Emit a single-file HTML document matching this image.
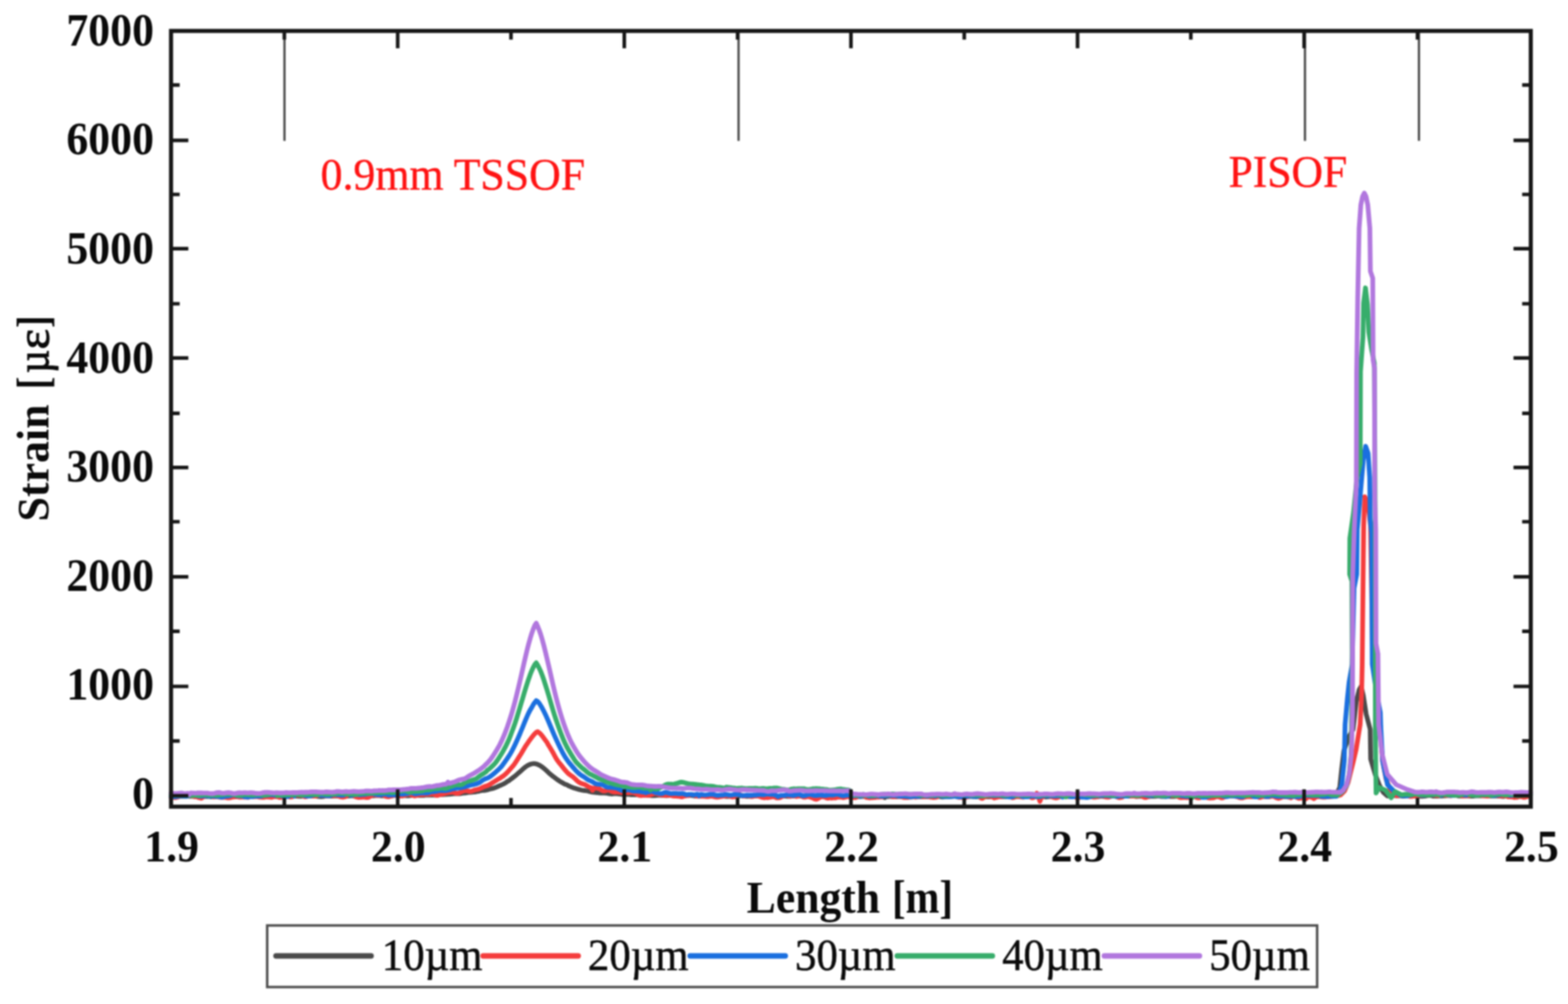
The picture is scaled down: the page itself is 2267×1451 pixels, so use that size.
<!DOCTYPE html>
<html lang="en"><head><meta charset="utf-8"><title>Strain vs Length</title>
<style>
html,body{margin:0;padding:0;background:#fff;}
body{width:2267px;height:1451px;overflow:hidden;}
svg{display:block;filter:blur(1.3px);}
text{font-family:"Liberation Serif","DejaVu Serif",serif;}
.b{font-weight:bold;font-size:64px;fill:#0a0a0a;}
.lg{font-size:64px;fill:#0a0a0a;stroke:#0a0a0a;stroke-width:0.7px;}
.an{font-size:64px;fill:#ff1212;stroke:#ff1212;stroke-width:0.5px;}
.gk{font-weight:normal;stroke:#0a0a0a;stroke-width:1.3px;}
.cv{fill:none;stroke-width:6.8;stroke-linejoin:round;stroke-linecap:round;}
</style></head><body>
<svg width="2267" height="1451" viewBox="0 0 2267 1451">
<rect width="2267" height="1451" fill="#ffffff"/>
<g stroke="#4c4c4c" stroke-width="3.3" fill="none">
<line x1="411.3" y1="44.7" x2="411.3" y2="203.6"/>
<line x1="1067.8" y1="44.7" x2="1067.8" y2="203.6"/>
<line x1="1886.7" y1="44.7" x2="1886.7" y2="203.6"/>
<line x1="2051.5" y1="44.7" x2="2051.5" y2="203.6"/>
</g>
<g class="cv">
<path stroke="#4a4a4a" d="M247.3,1150.8 249.5,1150.9 251.7,1150.6 253.9,1151.2 256.1,1151.3 258.3,1151.1 260.5,1150.8 262.7,1150.7 264.9,1150.8 267.1,1150.8 269.3,1150.7 271.5,1150.7 273.7,1150.8 275.9,1150.9 278.1,1150.9 280.3,1151.0 282.5,1151.2 284.7,1151.5 286.9,1151.8 289.1,1151.8 291.3,1151.8 293.5,1151.4 295.7,1151.2 297.9,1150.9 300.1,1151.0 302.3,1151.2 304.5,1151.5 306.7,1151.3 308.9,1151.2 311.1,1151.1 313.3,1151.3 315.5,1150.8 317.7,1151.3 319.9,1151.1 322.1,1150.8 324.3,1150.8 326.5,1150.7 328.7,1150.7 330.9,1150.8 333.1,1150.8 335.3,1150.9 337.5,1150.9 339.7,1150.9 341.9,1150.8 344.1,1150.7 346.3,1150.7 348.5,1150.7 350.7,1150.6 352.9,1151.9 355.1,1150.3 357.3,1150.4 359.5,1150.7 361.7,1150.7 363.9,1150.6 366.1,1150.5 368.3,1150.5 370.5,1150.4 372.7,1150.3 374.9,1150.3 377.1,1150.6 379.3,1150.7 381.5,1150.9 383.7,1151.0 385.9,1151.1 388.1,1151.0 390.3,1150.7 392.5,1150.4 394.7,1150.5 396.9,1150.8 399.1,1151.0 401.3,1151.1 403.5,1151.2 405.7,1150.9 407.9,1150.6 410.1,1150.3 412.3,1150.3 414.5,1150.6 416.7,1150.6 418.9,1149.9 421.1,1150.4 423.3,1150.5 425.5,1150.6 427.7,1150.6 429.9,1150.7 432.1,1150.8 434.3,1150.9 436.5,1150.8 438.7,1150.5 440.9,1150.2 443.1,1149.3 445.3,1150.3 447.5,1150.3 449.7,1150.3 451.9,1150.2 454.1,1150.4 456.3,1150.5 458.5,1150.8 460.7,1151.0 462.9,1151.3 465.1,1151.4 467.3,1151.2 469.5,1150.7 471.7,1150.3 473.9,1150.1 476.1,1150.4 478.3,1150.5 480.5,1150.5 482.7,1150.4 484.9,1150.3 487.1,1150.3 489.3,1150.3 491.5,1150.3 493.7,1150.5 495.9,1150.6 498.1,1150.6 500.3,1150.7 502.5,1150.5 504.7,1150.4 506.9,1150.2 509.1,1150.2 511.3,1150.3 513.5,1150.6 515.7,1150.8 517.9,1151.0 520.1,1151.0 522.3,1150.8 524.5,1150.8 526.7,1150.6 528.9,1150.6 531.1,1150.3 533.3,1150.3 535.5,1150.1 537.7,1150.2 539.9,1150.1 542.1,1149.8 544.3,1149.7 546.5,1149.8 548.7,1149.6 550.9,1150.2 553.1,1150.2 555.3,1150.0 557.5,1150.1 559.7,1150.1 561.9,1150.4 564.1,1150.3 566.3,1150.2 568.5,1149.8 570.7,1149.6 572.9,1149.5 575.1,1149.8 577.3,1149.9 579.5,1150.0 581.7,1150.0 583.9,1149.9 586.1,1149.9 588.3,1150.0 590.5,1150.0 592.7,1149.8 594.9,1149.5 597.1,1149.5 599.3,1149.5 601.5,1149.4 603.7,1149.3 605.9,1149.5 608.1,1149.7 610.3,1149.7 612.5,1149.6 614.7,1149.2 616.9,1149.1 619.1,1149.0 621.3,1149.0 623.5,1148.9 625.7,1149.0 627.9,1149.0 630.1,1149.0 632.3,1148.8 634.5,1148.5 636.7,1148.3 638.9,1148.2 641.1,1148.3 643.3,1148.2 645.5,1148.1 647.7,1147.9 649.9,1147.8 652.1,1147.6 654.3,1147.4 656.5,1147.0 658.7,1146.9 660.9,1147.0 663.1,1147.1 665.3,1147.0 667.5,1146.6 669.7,1146.2 671.9,1146.0 674.1,1145.8 676.3,1145.5 678.5,1145.2 680.7,1145.0 682.9,1144.9 685.1,1144.6 687.3,1144.5 689.5,1144.0 691.7,1143.6 693.9,1143.0 696.1,1142.6 698.3,1142.4 700.5,1142.3 702.7,1142.0 704.9,1141.4 707.1,1140.8 709.3,1140.1 711.5,1139.6 713.7,1139.1 715.9,1138.3 718.1,1137.4 720.3,1136.4 722.5,1135.4 724.7,1134.5 726.9,1133.5 729.1,1132.4 731.3,1131.1 733.5,1129.3 735.7,1128.3 737.9,1126.6 740.1,1125.0 742.3,1123.3 744.5,1121.6 746.7,1119.7 748.9,1117.8 751.1,1115.9 753.3,1113.9 755.5,1111.9 757.7,1110.0 759.9,1108.3 762.1,1106.8 764.3,1105.6 766.5,1104.6 768.7,1104.0 770.9,1103.7 773.1,1103.7 775.3,1104.1 777.5,1104.8 779.7,1105.8 781.9,1107.1 784.1,1108.6 786.3,1110.4 788.5,1112.3 790.7,1114.3 792.9,1116.4 795.1,1118.4 797.3,1120.3 799.5,1122.0 801.7,1123.6 803.9,1125.3 806.1,1126.9 808.3,1128.4 810.5,1129.8 812.7,1131.0 814.9,1132.3 817.1,1133.5 819.3,1134.0 821.5,1135.4 823.7,1136.4 825.9,1137.3 828.1,1138.2 830.3,1138.9 832.5,1139.6 834.7,1140.2 836.9,1140.9 839.1,1141.5 841.3,1142.0 843.5,1142.3 845.7,1142.5 847.9,1142.8 850.1,1143.3 852.3,1143.9 854.5,1144.4 856.7,1144.9 858.9,1145.1 861.1,1145.3 863.3,1145.5 865.5,1145.9 867.7,1146.0 869.9,1146.1 872.1,1146.1 874.3,1146.2 876.5,1146.4 878.7,1146.6 880.9,1147.1 883.1,1147.4 885.3,1147.5 887.5,1147.2 889.7,1147.1 891.9,1147.1 894.1,1147.4 896.3,1147.7 898.5,1148.0 900.7,1148.2 902.9,1148.2 905.1,1148.1 907.3,1148.0 909.5,1148.2 911.7,1148.5 913.9,1148.7 916.1,1148.7 918.3,1148.5 920.5,1148.5 922.7,1148.8 924.9,1149.2 927.1,1149.3 929.3,1149.2 931.5,1149.1 933.7,1149.2 935.9,1149.3 938.1,1149.5 940.3,1149.6 942.5,1149.9 944.7,1149.8 946.9,1149.8 949.1,1149.5 951.3,1149.4 953.5,1149.2 955.7,1149.3 957.9,1149.5 960.1,1149.7 962.3,1149.9 964.5,1149.9 966.7,1149.7 968.9,1149.5 971.1,1149.4 973.3,1149.6 975.5,1149.9 977.7,1149.1 979.9,1150.3 982.1,1150.4 984.3,1150.3 986.5,1150.0 988.7,1149.8 990.9,1149.5 993.1,1149.5 995.3,1149.4 997.5,1149.5 999.7,1149.6 1001.9,1150.0 1004.1,1150.4 1006.3,1150.5 1008.5,1150.1 1010.7,1149.8 1012.9,1149.9 1015.1,1150.3 1017.3,1150.6 1019.5,1150.6 1021.7,1150.3 1023.9,1150.2 1026.1,1150.2 1028.3,1150.2 1030.5,1150.3 1032.7,1150.3 1034.9,1150.3 1037.1,1150.1 1039.3,1151.0 1041.5,1149.7 1043.7,1150.0 1045.9,1150.4 1048.1,1150.8 1050.3,1151.0 1052.5,1151.1 1054.7,1150.9 1056.9,1150.5 1059.1,1150.4 1061.3,1150.6 1063.5,1151.0 1065.7,1150.9 1067.9,1150.5 1070.1,1150.1 1072.3,1149.9 1074.5,1150.2 1076.7,1150.7 1078.9,1150.9 1081.1,1150.9 1083.3,1150.8 1085.5,1150.9 1087.7,1150.8 1089.9,1150.6 1092.1,1150.2 1094.3,1150.0 1096.5,1150.0 1098.7,1150.3 1100.9,1150.5 1103.1,1150.6 1105.3,1150.4 1107.5,1151.1 1109.7,1151.2 1111.9,1151.1 1114.1,1150.8 1116.3,1150.5 1118.5,1150.5 1120.7,1150.7 1122.9,1151.0 1125.1,1151.0 1127.3,1150.8 1129.5,1150.5 1131.7,1150.5 1133.9,1150.5 1136.1,1150.7 1138.3,1150.9 1140.5,1150.9 1142.7,1150.8 1144.9,1150.7 1147.1,1150.7 1149.3,1150.4 1151.5,1150.3 1153.7,1150.2 1155.9,1150.6 1158.1,1150.7 1160.3,1150.6 1162.5,1150.2 1164.7,1150.2 1166.9,1150.2 1169.1,1150.7 1171.3,1150.9 1173.5,1151.1 1175.7,1151.0 1177.9,1150.8 1180.1,1150.7 1182.3,1150.6 1184.5,1150.8 1186.7,1151.0 1188.9,1151.1 1191.1,1151.1 1193.3,1151.0 1195.5,1151.1 1197.7,1151.2 1199.9,1151.3 1202.1,1151.3 1204.3,1151.2 1206.5,1151.0 1208.7,1150.9 1210.9,1151.0 1213.1,1151.1 1215.3,1151.1 1217.5,1151.0 1219.7,1150.7 1221.9,1150.6 1224.1,1150.5 1226.3,1150.7 1228.5,1150.8 1230.7,1151.1 1232.9,1151.2 1235.1,1151.0 1237.3,1151.0 1239.5,1151.0 1241.7,1151.2 1243.9,1151.3 1246.1,1151.2 1248.3,1151.1 1250.5,1151.0 1252.7,1151.3 1254.9,1151.4 1257.1,1151.6 1259.3,1151.5 1261.5,1151.7 1263.7,1151.6 1265.9,1151.4 1268.1,1151.3 1270.3,1151.5 1272.5,1151.7 1274.7,1151.7 1276.9,1151.6 1279.1,1152.7 1281.3,1151.4 1283.5,1151.3 1285.7,1151.2 1287.9,1151.2 1290.1,1151.3 1292.3,1151.7 1294.5,1151.7 1296.7,1151.5 1298.9,1151.1 1301.1,1151.0 1303.3,1150.9 1305.5,1151.0 1307.7,1150.9 1309.9,1150.8 1312.1,1150.9 1314.3,1151.4 1316.5,1151.8 1318.7,1151.8 1320.9,1151.5 1323.1,1151.1 1325.3,1151.1 1327.5,1151.4 1329.7,1151.5 1331.9,1151.5 1334.1,1151.3 1336.3,1151.6 1338.5,1151.4 1340.7,1151.4 1342.9,1151.2 1345.1,1151.4 1347.3,1151.6 1349.5,1151.6 1351.7,1151.3 1353.9,1150.9 1356.1,1150.9 1358.3,1151.2 1360.5,1151.6 1362.7,1151.8 1364.9,1151.6 1367.1,1151.3 1369.3,1151.2 1371.5,1151.3 1373.7,1151.4 1375.9,1151.2 1378.1,1150.8 1380.3,1150.4 1382.5,1150.5 1384.7,1150.8 1386.9,1151.2 1389.1,1151.4 1391.3,1151.4 1393.5,1151.4 1395.7,1151.4 1397.9,1151.3 1400.1,1151.1 1402.3,1151.0 1404.5,1151.0 1406.7,1151.3 1408.9,1151.4 1411.1,1151.5 1413.3,1151.4 1415.5,1151.3 1417.7,1151.2 1419.9,1151.3 1422.1,1151.5 1424.3,1151.5 1426.5,1151.6 1428.7,1151.6 1430.9,1151.7 1433.1,1151.6 1435.3,1151.4 1437.5,1151.2 1439.7,1151.1 1441.9,1151.3 1444.1,1151.4 1446.3,1151.5 1448.5,1151.4 1450.7,1151.4 1452.9,1151.3 1455.1,1151.3 1457.3,1151.2 1459.5,1151.1 1461.7,1151.0 1463.9,1151.2 1466.1,1151.2 1468.3,1151.3 1470.5,1151.1 1472.7,1150.9 1474.9,1150.9 1477.1,1151.0 1479.3,1151.1 1481.5,1151.0 1483.7,1150.9 1485.9,1150.9 1488.1,1151.0 1490.3,1151.1 1492.5,1150.8 1494.7,1150.6 1496.9,1150.6 1499.1,1150.9 1501.3,1151.1 1503.5,1151.3 1505.7,1151.4 1507.9,1151.7 1510.1,1151.7 1512.3,1151.8 1514.5,1151.6 1516.7,1151.3 1518.9,1150.9 1521.1,1150.7 1523.3,1150.5 1525.5,1150.3 1527.7,1150.3 1529.9,1150.8 1532.1,1151.2 1534.3,1151.4 1536.5,1151.3 1538.7,1151.0 1540.9,1150.8 1543.1,1150.8 1545.3,1150.8 1547.5,1151.0 1549.7,1150.9 1551.9,1150.7 1554.1,1150.5 1556.3,1149.8 1558.5,1150.7 1560.7,1150.9 1562.9,1151.2 1565.1,1151.4 1567.3,1151.4 1569.5,1151.2 1571.7,1151.1 1573.9,1151.2 1576.1,1151.5 1578.3,1151.5 1580.5,1151.7 1582.7,1151.7 1584.9,1151.7 1587.1,1151.3 1589.3,1151.0 1591.5,1150.8 1593.7,1150.9 1595.9,1151.1 1598.1,1151.3 1600.3,1151.5 1602.5,1151.2 1604.7,1150.8 1606.9,1150.3 1609.1,1150.1 1611.3,1150.2 1613.5,1150.4 1615.7,1150.6 1617.9,1150.8 1620.1,1150.9 1622.3,1150.7 1624.5,1150.5 1626.7,1150.3 1628.9,1150.6 1631.1,1150.7 1633.3,1150.7 1635.5,1150.5 1637.7,1150.5 1639.9,1150.6 1642.1,1151.0 1644.3,1151.0 1646.5,1150.9 1648.7,1150.7 1650.9,1150.9 1653.1,1151.2 1655.3,1151.3 1657.5,1151.4 1659.7,1151.3 1661.9,1151.2 1664.1,1150.9 1666.3,1150.9 1668.5,1150.6 1670.7,1150.8 1672.9,1150.6 1675.1,1150.7 1677.3,1150.8 1679.5,1151.1 1681.7,1151.2 1683.9,1151.1 1686.1,1151.0 1688.3,1150.9 1690.5,1150.9 1692.7,1151.1 1694.9,1151.0 1697.1,1151.0 1699.3,1150.9 1701.5,1150.9 1703.7,1150.7 1705.9,1150.2 1708.1,1149.8 1710.3,1149.9 1712.5,1150.2 1714.7,1150.4 1716.9,1150.6 1719.1,1150.8 1721.3,1151.0 1723.5,1151.0 1725.7,1151.1 1727.9,1151.4 1730.1,1151.6 1732.3,1151.5 1734.5,1151.2 1736.7,1151.1 1738.9,1150.9 1741.1,1150.8 1743.3,1150.7 1745.5,1150.8 1747.7,1150.9 1749.9,1151.2 1752.1,1151.2 1754.3,1151.1 1756.5,1150.9 1758.7,1150.9 1760.9,1151.0 1763.1,1151.1 1765.3,1151.1 1767.5,1151.1 1769.7,1151.4 1771.9,1151.2 1774.1,1150.8 1776.3,1150.2 1778.5,1150.2 1780.7,1150.2 1782.9,1150.3 1785.1,1150.3 1787.3,1150.5 1789.5,1150.6 1791.7,1150.5 1793.9,1150.5 1796.1,1150.4 1798.3,1150.4 1800.5,1150.1 1802.7,1150.0 1804.9,1150.3 1807.1,1150.7 1809.3,1151.1 1811.5,1151.0 1813.7,1150.8 1815.9,1150.6 1818.1,1150.8 1820.3,1151.0 1822.5,1151.3 1824.7,1150.7 1826.9,1151.2 1829.1,1151.1 1831.3,1151.3 1833.5,1151.3 1835.7,1151.3 1837.9,1150.8 1840.1,1150.4 1842.3,1150.1 1844.5,1150.3 1846.7,1150.8 1848.9,1151.4 1851.1,1151.6 1853.3,1151.5 1855.5,1151.4 1857.7,1151.3 1859.9,1151.4 1862.1,1151.3 1864.3,1151.3 1866.5,1151.0 1868.7,1151.0 1870.9,1150.9 1873.1,1151.0 1875.3,1151.2 1877.5,1151.3 1879.7,1151.2 1881.9,1150.7 1884.1,1150.0 1886.3,1149.7 1888.5,1149.9 1890.7,1150.2 1892.9,1150.5 1895.1,1150.5 1897.3,1150.6 1899.5,1150.7 1901.7,1150.9 1903.9,1150.9 1906.1,1151.0 1908.3,1151.1 1910.5,1150.9 1912.7,1150.7 1914.9,1150.4 1917.1,1150.4 1919.3,1150.5 1921.5,1150.7 1923.7,1150.7 1925.9,1150.8 1928.0,1150.8 1934.0,1144.0 1937.0,1138.0 1939.7,1112.0 1943.0,1085.0 1950.0,1065.0 1956.3,1054.0 1960.7,1015.0 1965.0,997.0 1967.9,992.0 1971.0,1005.0 1975.2,1032.0 1981.0,1054.0 1981.7,1097.0 1988.2,1119.0 1994.0,1134.0 1999.8,1145.0 2006.0,1150.3 2008.0,1150.3 2010.2,1150.1 2012.4,1149.9 2014.6,1149.9 2016.8,1149.9 2019.0,1150.1 2021.2,1150.1 2023.4,1150.2 2025.6,1150.2 2027.8,1150.6 2030.0,1150.5 2032.2,1150.3 2034.4,1149.8 2036.6,1149.7 2038.8,1149.7 2041.0,1150.0 2043.2,1150.1 2045.4,1150.2 2047.6,1150.1 2049.8,1150.3 2052.0,1150.6 2054.2,1150.8 2056.4,1150.8 2058.6,1150.7 2060.8,1150.3 2063.0,1149.9 2065.2,1149.6 2067.4,1149.7 2069.6,1149.7 2071.8,1150.5 2074.0,1150.7 2076.2,1150.6 2078.4,1150.5 2080.6,1150.4 2082.8,1150.4 2085.0,1150.4 2087.2,1150.2 2089.4,1150.0 2091.6,1149.8 2093.8,1149.8 2096.0,1149.7 2098.2,1149.6 2100.4,1149.5 2102.6,1149.6 2104.8,1148.1 2107.0,1150.0 2109.2,1150.3 2111.4,1150.3 2113.6,1150.3 2115.8,1150.1 2118.0,1150.0 2120.2,1149.9 2122.4,1150.1 2124.6,1150.4 2126.8,1150.7 2129.0,1150.5 2131.2,1150.3 2133.4,1150.2 2135.6,1150.1 2137.8,1150.2 2140.0,1150.1 2142.2,1150.1 2144.4,1149.7 2146.6,1149.5 2148.8,1149.4 2151.0,1149.9 2153.2,1150.1 2155.4,1150.3 2157.6,1150.2 2159.8,1150.3 2162.0,1150.3 2164.2,1150.4 2166.4,1150.5 2168.6,1150.6 2170.8,1150.8 2173.0,1151.0 2175.2,1150.8 2177.4,1150.5 2179.6,1150.3 2181.8,1150.4 2184.0,1150.5 2186.2,1150.2 2188.4,1149.9 2190.6,1149.8 2192.8,1149.9 2195.0,1150.1 2197.2,1150.2 2199.4,1150.4 2201.6,1150.3 2203.8,1150.2 2206.0,1149.7 2208.2,1149.6 2210.4,1149.6 2212.6,1149.9"/>
<path stroke="#f53c3c" d="M247.3,1152.3 249.5,1152.4 251.7,1152.6 253.9,1152.8 256.1,1152.3 258.3,1151.3 260.5,1150.2 262.7,1149.8 264.9,1150.1 267.1,1150.3 269.3,1150.8 271.5,1150.7 273.7,1150.3 275.9,1149.8 278.1,1150.7 280.3,1150.7 282.5,1151.5 284.7,1151.7 286.9,1152.7 289.1,1153.2 291.3,1153.6 293.5,1152.0 295.7,1150.8 297.9,1149.6 300.1,1149.6 302.3,1149.6 304.5,1150.4 306.7,1151.1 308.9,1151.8 311.1,1151.5 313.3,1151.5 315.5,1151.6 317.7,1152.2 319.9,1152.3 322.1,1152.3 324.3,1152.2 326.5,1152.4 328.7,1153.1 330.9,1153.1 333.1,1152.9 335.3,1152.0 337.5,1151.9 339.7,1151.4 341.9,1151.5 344.1,1151.5 346.3,1152.2 348.5,1152.1 350.7,1151.8 352.9,1151.6 355.1,1152.0 357.3,1151.8 359.5,1152.2 361.7,1150.5 363.9,1150.7 366.1,1151.3 368.3,1151.2 370.5,1151.3 372.7,1151.4 374.9,1152.0 377.1,1152.2 379.3,1152.4 381.5,1152.3 383.7,1152.0 385.9,1151.7 388.1,1151.9 390.3,1152.1 392.5,1152.4 394.7,1151.8 396.9,1151.1 399.1,1150.8 401.3,1151.3 403.5,1152.4 405.7,1152.6 407.9,1151.5 410.1,1150.1 412.3,1149.4 414.5,1149.9 416.7,1151.0 418.9,1151.8 421.1,1151.9 423.3,1151.3 425.5,1149.9 427.7,1149.6 429.9,1149.2 432.1,1149.4 434.3,1149.0 436.5,1149.6 438.7,1150.6 440.9,1151.6 443.1,1151.4 445.3,1150.2 447.5,1149.4 449.7,1149.5 451.9,1150.4 454.1,1150.7 456.3,1150.6 458.5,1149.8 460.7,1149.6 462.9,1149.5 465.1,1149.7 467.3,1149.5 469.5,1149.9 471.7,1150.4 473.9,1150.6 476.1,1150.0 478.3,1149.6 480.5,1149.9 482.7,1150.0 484.9,1149.8 487.1,1149.8 489.3,1150.4 491.5,1151.5 493.7,1151.9 495.9,1152.1 498.1,1151.7 500.3,1151.0 502.5,1149.7 504.7,1148.3 506.9,1147.4 509.1,1148.1 511.3,1149.5 513.5,1151.3 515.7,1152.0 517.9,1152.5 520.1,1152.4 522.3,1152.3 524.5,1152.0 526.7,1152.1 528.9,1152.5 531.1,1152.6 533.3,1152.1 535.5,1150.7 537.7,1149.6 539.9,1148.9 542.1,1148.9 544.3,1149.7 546.5,1149.7 548.7,1149.5 550.9,1148.4 553.1,1148.7 555.3,1149.5 557.5,1150.9 559.7,1151.4 561.9,1151.6 564.1,1150.9 566.3,1150.2 568.5,1149.5 570.7,1149.6 572.9,1149.6 575.1,1150.0 577.3,1150.1 579.5,1150.3 581.7,1150.2 583.9,1149.6 586.1,1149.2 588.3,1148.0 590.5,1148.2 592.7,1147.8 594.9,1149.0 597.1,1149.5 599.3,1150.4 601.5,1150.0 603.7,1149.5 605.9,1148.7 608.1,1148.7 610.3,1148.4 612.5,1148.5 614.7,1147.9 616.9,1148.2 619.1,1147.9 621.3,1147.9 623.5,1147.2 625.7,1147.4 627.9,1148.1 630.1,1149.4 632.3,1149.6 634.5,1149.0 636.7,1148.1 638.9,1147.8 641.1,1147.4 643.3,1146.8 645.5,1146.1 647.7,1145.7 649.9,1145.4 652.1,1145.0 654.3,1144.9 656.5,1145.4 658.7,1146.3 660.9,1146.7 663.1,1146.4 665.3,1145.4 667.5,1144.3 669.7,1143.4 671.9,1142.8 674.1,1142.7 676.3,1143.1 678.5,1143.6 680.7,1143.8 682.9,1143.1 685.1,1142.3 687.3,1141.5 689.5,1141.1 691.7,1140.6 693.9,1139.8 696.1,1138.7 698.3,1137.6 700.5,1136.8 702.7,1136.0 704.9,1135.4 707.1,1134.3 709.3,1133.0 711.5,1131.5 713.7,1130.2 715.9,1128.7 718.1,1127.5 720.3,1126.0 722.5,1124.9 724.7,1123.3 726.9,1122.0 729.1,1120.3 731.3,1118.4 733.5,1116.2 735.7,1113.8 737.9,1111.3 740.1,1108.8 742.3,1106.2 744.5,1103.2 746.7,1099.8 748.9,1096.4 751.1,1092.9 753.3,1089.5 755.5,1085.7 757.7,1082.0 759.9,1078.3 762.1,1075.1 764.3,1071.8 766.5,1068.8 768.7,1065.8 770.9,1063.0 773.1,1060.5 775.3,1058.4 777.5,1057.4 779.7,1059.1 781.9,1061.1 784.1,1063.7 786.3,1066.7 788.5,1069.8 790.7,1072.7 792.9,1076.8 795.1,1080.3 797.3,1083.9 799.5,1087.7 801.7,1091.8 803.9,1095.9 806.1,1099.3 808.3,1102.2 810.5,1104.8 812.7,1107.5 814.9,1110.3 817.1,1113.0 819.3,1115.5 821.5,1117.8 823.7,1119.5 825.9,1121.1 828.1,1122.4 830.3,1124.4 832.5,1126.5 834.7,1128.7 836.9,1130.3 839.1,1131.7 841.3,1132.6 843.5,1133.3 845.7,1133.9 847.9,1135.2 850.1,1136.5 852.3,1137.7 854.5,1138.3 856.7,1142.3 858.9,1138.6 861.1,1138.7 863.3,1139.3 865.5,1139.6 867.7,1140.8 869.9,1142.0 872.1,1143.2 874.3,1143.1 876.5,1142.5 878.7,1141.8 880.9,1142.3 883.1,1143.1 885.3,1144.2 887.5,1144.6 889.7,1144.8 891.9,1144.5 894.1,1144.8 896.3,1145.2 898.5,1145.5 900.7,1145.7 902.9,1145.6 905.1,1145.7 907.3,1145.4 909.5,1145.5 911.7,1145.3 913.9,1145.4 916.1,1145.6 918.3,1146.5 920.5,1147.5 922.7,1148.9 924.9,1149.3 927.1,1149.9 929.3,1149.0 931.5,1149.3 933.7,1148.9 935.9,1149.5 938.1,1149.4 940.3,1149.0 942.5,1148.0 944.7,1147.2 946.9,1146.7 949.1,1147.2 951.3,1147.8 953.5,1148.5 955.7,1148.7 957.9,1149.1 960.1,1149.4 962.3,1149.5 964.5,1149.4 966.7,1149.3 968.9,1149.5 971.1,1149.9 973.3,1150.4 975.5,1150.6 977.7,1150.7 979.9,1150.8 982.1,1150.9 984.3,1151.5 986.5,1151.5 988.7,1150.6 990.9,1150.4 993.1,1149.7 995.3,1150.0 997.5,1148.7 999.7,1148.5 1001.9,1148.4 1004.1,1149.6 1006.3,1150.1 1008.5,1150.8 1010.7,1150.7 1012.9,1150.9 1015.1,1150.8 1017.3,1150.8 1019.5,1151.0 1021.7,1151.4 1023.9,1151.3 1026.1,1150.9 1028.3,1150.6 1030.5,1150.9 1032.7,1151.6 1034.9,1152.0 1037.1,1152.0 1039.3,1151.8 1041.5,1151.4 1043.7,1151.1 1045.9,1150.5 1048.1,1150.6 1050.3,1150.0 1052.5,1150.3 1054.7,1150.4 1056.9,1151.5 1059.1,1151.8 1061.3,1151.7 1063.5,1150.2 1065.7,1148.9 1067.9,1148.1 1070.1,1148.7 1072.3,1149.7 1074.5,1150.6 1076.7,1150.5 1078.9,1150.0 1081.1,1149.7 1083.3,1150.3 1085.5,1151.0 1087.7,1151.1 1089.9,1150.6 1092.1,1150.3 1094.3,1150.4 1096.5,1150.6 1098.7,1151.3 1100.9,1152.1 1103.1,1152.6 1105.3,1153.0 1107.5,1152.5 1109.7,1152.8 1111.9,1152.4 1114.1,1152.2 1116.3,1151.4 1118.5,1151.7 1120.7,1152.1 1122.9,1153.1 1125.1,1153.0 1127.3,1152.8 1129.5,1151.8 1131.7,1150.9 1133.9,1150.0 1136.1,1149.4 1138.3,1149.7 1140.5,1150.2 1142.7,1150.8 1144.9,1150.7 1147.1,1148.1 1149.3,1150.7 1151.5,1151.1 1153.7,1150.6 1155.9,1150.4 1158.1,1150.4 1160.3,1151.5 1162.5,1152.2 1164.7,1152.0 1166.9,1151.4 1169.1,1151.4 1171.3,1152.0 1173.5,1152.7 1175.7,1153.6 1177.9,1154.7 1180.1,1155.2 1182.3,1154.4 1184.5,1152.9 1186.7,1152.0 1188.9,1151.5 1191.1,1151.9 1193.3,1152.3 1195.5,1153.3 1197.7,1153.6 1199.9,1152.8 1202.1,1153.5 1204.3,1153.1 1206.5,1152.9 1208.7,1153.0 1210.9,1152.0 1213.1,1152.2 1215.3,1151.8 1217.5,1152.5 1219.7,1152.8 1221.9,1152.3 1224.1,1151.7 1226.3,1148.0 1228.5,1152.0 1230.7,1152.0 1232.9,1152.6 1235.1,1152.9 1237.3,1152.6 1239.5,1151.7 1241.7,1150.9 1243.9,1150.5 1246.1,1150.6 1248.3,1150.4 1250.5,1150.9 1252.7,1152.7 1254.9,1152.7 1257.1,1153.2 1259.3,1152.9 1261.5,1152.8 1263.7,1152.5 1265.9,1152.5 1268.1,1151.9 1270.3,1152.1 1272.5,1151.9 1274.7,1151.9 1276.9,1150.7 1279.1,1150.0 1281.3,1150.0 1283.5,1150.2 1285.7,1150.4 1287.9,1150.4 1290.1,1151.4 1292.3,1151.6 1294.5,1151.7 1296.7,1151.0 1298.9,1151.0 1301.1,1151.1 1303.3,1151.7 1305.5,1152.1 1307.7,1152.6 1309.9,1152.5 1312.1,1152.6 1314.3,1152.1 1316.5,1151.8 1318.7,1151.5 1320.9,1151.6 1323.1,1152.0 1325.3,1151.8 1327.5,1151.7 1329.7,1151.3 1331.9,1151.4 1334.1,1151.4 1336.3,1151.6 1338.5,1151.4 1340.7,1151.4 1342.9,1151.3 1345.1,1152.1 1347.3,1152.2 1349.5,1152.7 1351.7,1152.3 1353.9,1152.1 1356.1,1150.6 1358.3,1150.0 1360.5,1149.4 1362.7,1150.1 1364.9,1150.4 1367.1,1150.5 1369.3,1150.2 1371.5,1150.0 1373.7,1150.4 1375.9,1150.6 1378.1,1150.4 1380.3,1150.3 1382.5,1150.9 1384.7,1151.9 1386.9,1152.4 1389.1,1152.4 1391.3,1152.5 1393.5,1152.7 1395.7,1152.7 1397.9,1151.9 1400.1,1151.2 1402.3,1150.2 1404.5,1150.0 1406.7,1149.0 1408.9,1148.8 1411.1,1148.1 1413.3,1149.2 1415.5,1150.9 1417.7,1153.0 1419.9,1153.9 1422.1,1152.7 1424.3,1151.7 1426.5,1150.3 1428.7,1150.8 1430.9,1150.3 1433.1,1151.5 1435.3,1152.0 1437.5,1153.3 1439.7,1152.6 1441.9,1152.1 1444.1,1151.5 1446.3,1151.6 1448.5,1151.6 1450.7,1151.0 1452.9,1150.4 1455.1,1149.8 1457.3,1149.8 1459.5,1150.5 1461.7,1151.9 1463.9,1152.8 1466.1,1152.5 1468.3,1151.3 1470.5,1150.8 1472.7,1151.1 1474.9,1151.7 1477.1,1151.9 1479.3,1152.1 1481.5,1151.7 1483.7,1151.2 1485.9,1150.5 1488.1,1151.2 1490.3,1152.3 1492.5,1153.1 1494.7,1152.4 1496.9,1151.5 1499.1,1146.3 1501.3,1151.3 1503.5,1158.2 1505.7,1152.1 1507.9,1151.9 1510.1,1150.5 1512.3,1149.9 1514.5,1149.7 1516.7,1150.7 1518.9,1151.1 1521.1,1151.7 1523.3,1152.4 1525.5,1153.0 1527.7,1153.0 1529.9,1152.2 1532.1,1151.4 1534.3,1149.7 1536.5,1150.3 1538.7,1150.2 1540.9,1150.7 1543.1,1151.2 1545.3,1151.2 1547.5,1150.9 1549.7,1150.6 1551.9,1150.8 1554.1,1151.5 1556.3,1152.6 1558.5,1153.1 1560.7,1152.7 1562.9,1151.3 1565.1,1150.3 1567.3,1149.8 1569.5,1149.9 1571.7,1149.6 1573.9,1149.8 1576.1,1150.3 1578.3,1151.3 1580.5,1152.0 1582.7,1152.2 1584.9,1151.9 1587.1,1151.3 1589.3,1150.6 1591.5,1150.4 1593.7,1150.3 1595.9,1148.1 1598.1,1151.7 1600.3,1152.2 1602.5,1152.1 1604.7,1151.5 1606.9,1150.6 1609.1,1149.8 1611.3,1150.1 1613.5,1151.0 1615.7,1152.1 1617.9,1152.9 1620.1,1152.6 1622.3,1152.2 1624.5,1150.9 1626.7,1150.4 1628.9,1149.5 1631.1,1149.7 1633.3,1150.0 1635.5,1150.6 1637.7,1150.6 1639.9,1150.7 1642.1,1150.8 1644.3,1150.6 1646.5,1150.1 1648.7,1149.7 1650.9,1150.5 1653.1,1151.9 1655.3,1152.7 1657.5,1152.5 1659.7,1151.5 1661.9,1150.7 1664.1,1149.5 1666.3,1149.0 1668.5,1148.9 1670.7,1149.9 1672.9,1150.2 1675.1,1150.5 1677.3,1150.5 1679.5,1150.5 1681.7,1150.3 1683.9,1149.9 1686.1,1149.8 1688.3,1149.8 1690.5,1149.8 1692.7,1149.9 1694.9,1149.9 1697.1,1149.9 1699.3,1149.8 1701.5,1150.5 1703.7,1151.5 1705.9,1152.6 1708.1,1152.8 1710.3,1152.7 1712.5,1152.5 1714.7,1152.6 1716.9,1152.8 1719.1,1152.2 1721.3,1150.9 1723.5,1151.3 1725.7,1151.6 1727.9,1151.7 1730.1,1152.6 1732.3,1153.1 1734.5,1153.0 1736.7,1151.7 1738.9,1150.5 1741.1,1150.4 1743.3,1151.4 1745.5,1152.6 1747.7,1153.1 1749.9,1153.4 1752.1,1153.2 1754.3,1153.0 1756.5,1152.2 1758.7,1151.4 1760.9,1151.3 1763.1,1152.0 1765.3,1153.0 1767.5,1153.1 1769.7,1152.2 1771.9,1151.0 1774.1,1150.3 1776.3,1150.6 1778.5,1150.4 1780.7,1150.4 1782.9,1150.2 1785.1,1150.6 1787.3,1151.1 1789.5,1151.7 1791.7,1152.7 1793.9,1153.1 1796.1,1153.2 1798.3,1152.4 1800.5,1152.0 1802.7,1151.4 1804.9,1151.3 1807.1,1151.1 1809.3,1151.3 1811.5,1151.0 1813.7,1150.3 1815.9,1150.3 1818.1,1151.3 1820.3,1152.5 1822.5,1152.5 1824.7,1151.4 1826.9,1151.0 1829.1,1150.7 1831.3,1151.6 1833.5,1151.3 1835.7,1151.4 1837.9,1150.5 1840.1,1150.8 1842.3,1151.2 1844.5,1152.5 1846.7,1153.4 1848.9,1153.8 1851.1,1153.1 1853.3,1152.0 1855.5,1150.6 1857.7,1150.3 1859.9,1150.9 1862.1,1152.1 1864.3,1152.1 1866.5,1153.1 1868.7,1150.5 1870.9,1150.6 1873.1,1151.4 1875.3,1152.7 1877.5,1153.8 1879.7,1153.7 1881.9,1153.1 1884.1,1152.2 1886.3,1152.1 1888.5,1154.2 1890.7,1151.7 1892.9,1151.5 1895.1,1152.1 1897.3,1152.6 1899.5,1154.2 1901.7,1152.5 1903.9,1151.6 1906.1,1151.1 1908.3,1151.0 1910.5,1151.9 1912.7,1152.0 1914.9,1152.1 1917.1,1151.8 1919.3,1151.6 1921.5,1151.5 1923.7,1151.3 1925.9,1150.4 1932.0,1150.4 1938.0,1149.0 1944.0,1143.0 1949.0,1131.0 1953.0,1115.0 1956.3,1102.0 1960.7,1083.0 1966.5,1047.0 1968.6,1003.0 1969.5,960.0 1970.6,850.0 1971.6,760.0 1973.2,718.0 1978.0,728.0 1981.5,760.0 1983.0,850.0 1984.5,940.0 1988.0,980.0 1992.0,1020.0 1995.5,1060.0 1999.0,1100.0 2004.0,1126.0 2010.0,1141.0 2018.0,1149.8 2020.0,1149.8 2022.2,1149.9 2024.4,1149.5 2026.6,1149.2 2028.8,1148.9 2031.0,1149.0 2033.2,1149.4 2035.4,1150.1 2037.6,1150.8 2039.8,1151.0 2042.0,1150.9 2044.2,1150.5 2046.4,1150.4 2048.6,1150.1 2050.8,1149.9 2053.0,1149.4 2055.2,1149.4 2057.4,1148.7 2059.6,1148.6 2061.8,1148.4 2064.0,1148.7 2066.2,1148.5 2068.4,1148.7 2070.6,1148.6 2072.8,1149.1 2075.0,1149.3 2077.2,1149.7 2079.4,1149.8 2081.6,1149.1 2083.8,1148.5 2086.0,1148.0 2088.2,1148.8 2090.4,1149.1 2092.6,1149.6 2094.8,1149.7 2097.0,1150.1 2099.2,1149.8 2101.4,1149.2 2103.6,1148.4 2105.8,1148.0 2108.0,1148.0 2110.2,1148.8 2112.4,1149.7 2114.6,1150.4 2116.8,1150.4 2119.0,1150.2 2121.2,1150.2 2123.4,1150.0 2125.6,1149.3 2127.8,1148.2 2130.0,1147.8 2132.2,1148.6 2134.4,1149.1 2136.6,1149.3 2138.8,1148.9 2141.0,1149.2 2143.2,1149.6 2145.4,1150.3 2147.6,1150.4 2149.8,1150.7 2152.0,1150.3 2154.2,1150.3 2156.4,1149.6 2158.6,1149.5 2160.8,1149.0 2163.0,1149.4 2165.2,1149.6 2167.4,1150.2 2169.6,1150.1 2171.8,1150.3 2174.0,1149.9 2176.2,1150.3 2178.4,1150.6 2180.6,1151.7 2182.8,1151.4 2185.0,1151.8 2187.2,1151.5 2189.4,1152.7 2191.6,1152.4 2193.8,1152.3 2196.0,1151.1 2198.2,1151.3 2200.4,1151.5 2202.6,1152.3 2204.8,1152.3 2207.0,1151.7 2209.2,1150.9 2211.4,1150.6"/>
<path stroke="#1a6fdf" d="M247.3,1151.1 249.5,1151.1 251.7,1151.5 253.9,1151.4 256.1,1151.2 258.3,1150.7 260.5,1150.3 262.7,1150.1 264.9,1150.5 267.1,1150.7 269.3,1150.9 271.5,1150.4 273.7,1150.1 275.9,1149.7 278.1,1149.2 280.3,1149.1 282.5,1149.3 284.7,1149.9 286.9,1150.4 289.1,1150.6 291.3,1150.5 293.5,1150.4 295.7,1150.0 297.9,1150.1 300.1,1150.2 302.3,1150.6 304.5,1150.5 306.7,1150.4 308.9,1150.7 311.1,1150.8 313.3,1151.1 315.5,1151.0 317.7,1151.6 319.9,1152.0 322.1,1151.8 324.3,1151.3 326.5,1150.7 328.7,1150.7 330.9,1150.2 333.1,1149.9 335.3,1148.8 337.5,1148.8 339.7,1148.9 341.9,1149.9 344.1,1150.1 346.3,1150.3 348.5,1150.1 350.7,1150.5 352.9,1151.2 355.1,1151.7 357.3,1152.0 359.5,1151.8 361.7,1150.0 363.9,1151.5 366.1,1151.1 368.3,1150.7 370.5,1150.5 372.7,1150.7 374.9,1150.7 377.1,1150.6 379.3,1150.3 381.5,1148.3 383.7,1149.4 385.9,1149.2 388.1,1148.9 390.3,1148.7 392.5,1148.3 394.7,1148.5 396.9,1149.0 399.1,1149.5 401.3,1149.6 403.5,1149.7 405.7,1149.8 407.9,1150.1 410.1,1150.4 412.3,1150.7 414.5,1151.3 416.7,1150.9 418.9,1150.2 421.1,1148.6 423.3,1148.0 425.5,1150.4 427.7,1148.3 429.9,1148.2 432.1,1148.1 434.3,1148.3 436.5,1148.8 438.7,1149.5 440.9,1149.9 443.1,1150.4 445.3,1150.5 447.5,1150.2 449.7,1149.7 451.9,1149.1 454.1,1148.9 456.3,1148.4 458.5,1148.5 460.7,1149.0 462.9,1149.3 465.1,1149.3 467.3,1149.2 469.5,1149.5 471.7,1150.0 473.9,1150.2 476.1,1150.1 478.3,1149.3 480.5,1148.6 482.7,1148.2 484.9,1148.1 487.1,1148.3 489.3,1148.5 491.5,1148.9 493.7,1149.3 495.9,1149.2 498.1,1148.5 500.3,1147.7 502.5,1147.6 504.7,1148.2 506.9,1149.1 509.1,1149.2 511.3,1148.7 513.5,1148.1 515.7,1148.2 517.9,1148.4 520.1,1148.6 522.3,1148.3 524.5,1148.2 526.7,1147.9 528.9,1147.8 531.1,1147.3 533.3,1147.0 535.5,1146.8 537.7,1146.9 539.9,1147.2 542.1,1147.6 544.3,1148.2 546.5,1148.6 548.7,1148.6 550.9,1148.4 553.1,1147.9 555.3,1147.4 557.5,1147.6 559.7,1148.1 561.9,1149.0 564.1,1148.9 566.3,1148.9 568.5,1148.1 570.7,1149.0 572.9,1147.3 575.1,1147.1 577.3,1147.4 579.5,1147.6 581.7,1147.7 583.9,1147.5 586.1,1147.1 588.3,1147.0 590.5,1146.4 592.7,1146.0 594.9,1145.5 597.1,1146.2 599.3,1147.0 601.5,1147.3 603.7,1146.8 605.9,1146.4 608.1,1146.1 610.3,1146.0 612.5,1145.8 614.7,1146.0 616.9,1146.1 619.1,1145.8 621.3,1145.0 623.5,1144.3 625.7,1144.0 627.9,1144.0 630.1,1143.6 632.3,1143.1 634.5,1142.6 636.7,1142.6 638.9,1142.6 641.1,1142.7 643.3,1142.6 645.5,1142.4 647.7,1142.0 649.9,1141.5 652.1,1140.7 654.3,1140.2 656.5,1139.8 658.7,1139.5 660.9,1139.2 663.1,1138.8 665.3,1138.7 667.5,1138.2 669.7,1137.7 671.9,1137.1 674.1,1136.5 676.3,1135.9 678.5,1135.2 680.7,1134.6 682.9,1134.2 685.1,1133.8 687.3,1133.2 689.5,1132.6 691.7,1131.7 693.9,1130.6 696.1,1128.9 698.3,1127.3 700.5,1126.2 702.7,1125.2 704.9,1124.4 707.1,1123.2 709.3,1121.8 711.5,1120.1 713.7,1118.3 715.9,1116.6 718.1,1114.6 720.3,1112.6 722.5,1110.4 724.7,1108.1 726.9,1105.3 729.1,1102.3 731.3,1099.1 733.5,1096.0 735.7,1092.7 737.9,1089.2 740.1,1085.3 742.3,1081.0 744.5,1076.5 746.7,1071.8 748.9,1066.9 751.1,1061.8 753.3,1056.5 755.5,1051.2 757.7,1045.8 759.9,1040.4 762.1,1035.2 764.3,1030.4 766.5,1026.1 768.7,1022.6 770.9,1018.5 773.1,1015.3 775.3,1012.5 777.5,1013.9 779.7,1016.5 781.9,1020.0 784.1,1023.8 786.3,1027.9 788.5,1032.4 790.7,1037.3 792.9,1042.4 795.1,1047.6 797.3,1052.9 799.5,1058.1 801.7,1063.3 803.9,1068.2 806.1,1072.9 808.3,1077.5 810.5,1082.0 812.7,1086.3 814.9,1090.3 817.1,1094.1 819.3,1097.4 821.5,1100.5 823.7,1103.3 825.9,1105.9 828.1,1108.5 830.3,1111.0 832.5,1113.6 834.7,1115.7 836.9,1117.8 839.1,1119.5 841.3,1121.0 843.5,1122.2 845.7,1123.7 847.9,1125.4 850.1,1126.9 852.3,1127.9 854.5,1128.8 856.7,1129.8 858.9,1131.4 861.1,1132.5 863.3,1133.2 865.5,1133.4 867.7,1133.6 869.9,1133.9 872.1,1134.5 874.3,1135.9 876.5,1137.1 878.7,1137.9 880.9,1137.9 883.1,1137.9 885.3,1138.1 887.5,1138.3 889.7,1138.7 891.9,1139.1 894.1,1140.1 896.3,1141.2 898.5,1142.2 900.7,1142.8 902.9,1142.7 905.1,1142.0 907.3,1141.4 909.5,1141.3 911.7,1142.2 913.9,1142.9 916.1,1143.4 918.3,1143.3 920.5,1143.3 922.7,1143.5 924.9,1143.9 927.1,1144.2 929.3,1144.7 931.5,1144.7 933.7,1145.8 935.9,1144.7 938.1,1144.5 940.3,1143.6 942.5,1143.6 944.7,1144.2 946.9,1145.3 949.1,1145.9 951.3,1146.2 953.5,1146.8 955.7,1146.9 957.9,1146.6 960.1,1145.5 962.3,1145.2 964.5,1145.5 966.7,1146.2 968.9,1146.6 971.1,1146.8 973.3,1146.6 975.5,1146.7 977.7,1146.7 979.9,1147.0 982.1,1147.0 984.3,1146.8 986.5,1146.8 988.7,1147.3 990.9,1148.0 993.1,1148.6 995.3,1148.2 997.5,1148.2 999.7,1148.1 1001.9,1148.8 1004.1,1148.7 1006.3,1148.2 1008.5,1147.9 1010.7,1150.2 1012.9,1148.2 1015.1,1148.4 1017.3,1148.8 1019.5,1148.8 1021.7,1148.7 1023.9,1148.4 1026.1,1148.0 1028.3,1147.9 1030.5,1148.0 1032.7,1148.5 1034.9,1149.2 1037.1,1149.5 1039.3,1149.3 1041.5,1149.1 1043.7,1149.0 1045.9,1148.9 1048.1,1148.4 1050.3,1148.4 1052.5,1148.6 1054.7,1149.2 1056.9,1149.1 1059.1,1148.8 1061.3,1148.3 1063.5,1148.3 1065.7,1148.1 1067.9,1148.5 1070.1,1148.9 1072.3,1149.7 1074.5,1149.8 1076.7,1149.6 1078.9,1149.4 1081.1,1149.2 1083.3,1149.5 1085.5,1149.4 1087.7,1149.5 1089.9,1149.0 1092.1,1149.1 1094.3,1148.7 1096.5,1148.3 1098.7,1148.1 1100.9,1148.4 1103.1,1148.6 1105.3,1148.3 1107.5,1147.7 1109.7,1147.5 1111.9,1147.7 1114.1,1148.1 1116.3,1148.1 1118.5,1148.2 1120.7,1148.9 1122.9,1149.8 1125.1,1151.4 1127.3,1150.0 1129.5,1149.6 1131.7,1149.6 1133.9,1149.5 1136.1,1149.0 1138.3,1148.6 1140.5,1148.7 1142.7,1149.2 1144.9,1149.4 1147.1,1149.5 1149.3,1149.2 1151.5,1148.6 1153.7,1147.9 1155.9,1148.2 1158.1,1149.1 1160.3,1150.1 1162.5,1150.0 1164.7,1149.6 1166.9,1148.8 1169.1,1148.3 1171.3,1148.0 1173.5,1148.6 1175.7,1149.3 1177.9,1149.7 1180.1,1149.7 1182.3,1149.4 1184.5,1149.2 1186.7,1149.1 1188.9,1149.4 1191.1,1149.7 1193.3,1149.7 1195.5,1149.3 1197.7,1148.9 1199.9,1148.8 1202.1,1148.9 1204.3,1149.0 1206.5,1148.5 1208.7,1147.9 1210.9,1147.7 1213.1,1148.4 1215.3,1149.2 1217.5,1149.8 1219.7,1150.0 1221.9,1149.6 1224.1,1149.2 1226.3,1148.9 1228.5,1149.2 1230.7,1149.8 1232.9,1150.1 1235.1,1149.8 1237.3,1149.6 1239.5,1149.9 1241.7,1150.4 1243.9,1150.9 1246.1,1150.3 1248.3,1149.5 1250.5,1148.9 1252.7,1149.5 1254.9,1150.3 1257.1,1150.6 1259.3,1150.5 1261.5,1150.4 1263.7,1150.4 1265.9,1150.1 1268.1,1150.1 1270.3,1150.1 1272.5,1150.7 1274.7,1150.6 1276.9,1150.5 1279.1,1150.1 1281.3,1150.2 1283.5,1150.0 1285.7,1149.7 1287.9,1149.3 1290.1,1149.5 1292.3,1149.5 1294.5,1149.9 1296.7,1150.1 1298.9,1150.4 1301.1,1150.7 1303.3,1150.4 1305.5,1150.6 1307.7,1150.5 1309.9,1151.0 1312.1,1151.1 1314.3,1151.4 1316.5,1151.5 1318.7,1151.2 1320.9,1151.0 1323.1,1150.6 1325.3,1151.0 1327.5,1151.0 1329.7,1150.9 1331.9,1150.2 1334.1,1149.8 1336.3,1149.8 1338.5,1150.2 1340.7,1150.4 1342.9,1150.1 1345.1,1149.9 1347.3,1150.3 1349.5,1149.0 1351.7,1150.6 1353.9,1149.7 1356.1,1149.4 1358.3,1149.5 1360.5,1150.3 1362.7,1150.9 1364.9,1151.1 1367.1,1151.2 1369.3,1151.2 1371.5,1151.4 1373.7,1151.4 1375.9,1151.0 1378.1,1150.6 1380.3,1150.8 1382.5,1151.2 1384.7,1151.6 1386.9,1151.4 1389.1,1151.6 1391.3,1151.6 1393.5,1151.7 1395.7,1151.2 1397.9,1150.9 1400.1,1150.4 1402.3,1150.4 1404.5,1150.5 1406.7,1150.9 1408.9,1151.2 1411.1,1151.0 1413.3,1150.7 1415.5,1150.4 1417.7,1150.4 1419.9,1150.1 1422.1,1149.6 1424.3,1149.2 1426.5,1149.1 1428.7,1149.1 1430.9,1149.3 1433.1,1149.3 1435.3,1149.5 1437.5,1149.7 1439.7,1149.6 1441.9,1149.4 1444.1,1149.2 1446.3,1149.7 1448.5,1150.2 1450.7,1150.6 1452.9,1150.7 1455.1,1151.1 1457.3,1151.5 1459.5,1151.9 1461.7,1151.6 1463.9,1151.3 1466.1,1150.5 1468.3,1149.8 1470.5,1149.1 1472.7,1149.1 1474.9,1149.8 1477.1,1150.8 1479.3,1151.4 1481.5,1151.6 1483.7,1151.5 1485.9,1151.5 1488.1,1151.0 1490.3,1150.6 1492.5,1150.2 1494.7,1150.4 1496.9,1150.7 1499.1,1151.3 1501.3,1151.4 1503.5,1151.3 1505.7,1150.5 1507.9,1149.8 1510.1,1149.8 1512.3,1150.0 1514.5,1150.4 1516.7,1150.1 1518.9,1150.2 1521.1,1150.1 1523.3,1150.4 1525.5,1150.4 1527.7,1150.2 1529.9,1150.1 1532.1,1150.0 1534.3,1150.2 1536.5,1152.0 1538.7,1150.4 1540.9,1150.4 1543.1,1150.6 1545.3,1150.9 1547.5,1151.4 1549.7,1151.7 1551.9,1151.5 1554.1,1150.9 1556.3,1150.6 1558.5,1150.4 1560.7,1151.2 1562.9,1151.6 1565.1,1152.2 1567.3,1152.2 1569.5,1152.4 1571.7,1152.5 1573.9,1152.1 1576.1,1151.3 1578.3,1150.8 1580.5,1150.3 1582.7,1150.1 1584.9,1149.8 1587.1,1149.9 1589.3,1149.8 1591.5,1149.7 1593.7,1149.6 1595.9,1149.7 1598.1,1149.6 1600.3,1149.7 1602.5,1149.9 1604.7,1150.2 1606.9,1150.4 1609.1,1150.3 1611.3,1150.6 1613.5,1150.8 1615.7,1150.8 1617.9,1150.4 1620.1,1150.2 1622.3,1150.1 1624.5,1150.3 1626.7,1150.5 1628.9,1150.6 1631.1,1150.1 1633.3,1149.4 1635.5,1148.9 1637.7,1148.9 1639.9,1149.0 1642.1,1149.1 1644.3,1149.1 1646.5,1149.0 1648.7,1148.6 1650.9,1148.4 1653.1,1148.3 1655.3,1148.7 1657.5,1149.3 1659.7,1149.8 1661.9,1149.8 1664.1,1149.8 1666.3,1149.6 1668.5,1149.5 1670.7,1149.5 1672.9,1149.8 1675.1,1150.0 1677.3,1150.1 1679.5,1150.3 1681.7,1150.6 1683.9,1150.9 1686.1,1151.0 1688.3,1150.6 1690.5,1149.8 1692.7,1149.0 1694.9,1148.4 1697.1,1148.4 1699.3,1148.5 1701.5,1148.8 1703.7,1149.1 1705.9,1149.6 1708.1,1149.8 1710.3,1150.1 1712.5,1150.4 1714.7,1150.8 1716.9,1150.3 1719.1,1151.1 1721.3,1151.0 1723.5,1150.5 1725.7,1150.3 1727.9,1150.0 1730.1,1150.0 1732.3,1150.1 1734.5,1150.6 1736.7,1151.4 1738.9,1152.4 1741.1,1152.4 1743.3,1152.1 1745.5,1151.1 1747.7,1150.7 1749.9,1150.0 1752.1,1149.6 1754.3,1149.1 1756.5,1148.6 1758.7,1148.2 1760.9,1148.0 1763.1,1148.4 1765.3,1149.2 1767.5,1150.0 1769.7,1150.6 1771.9,1151.1 1774.1,1151.1 1776.3,1150.8 1778.5,1150.0 1780.7,1150.1 1782.9,1150.3 1785.1,1150.7 1787.3,1150.6 1789.5,1150.8 1791.7,1151.2 1793.9,1151.7 1796.1,1151.7 1798.3,1150.9 1800.5,1149.8 1802.7,1148.6 1804.9,1148.3 1807.1,1148.5 1809.3,1149.5 1811.5,1150.3 1813.7,1151.3 1815.9,1151.5 1818.1,1151.4 1820.3,1150.5 1822.5,1149.6 1824.7,1149.3 1826.9,1149.7 1829.1,1150.6 1831.3,1151.1 1833.5,1151.0 1835.7,1150.1 1837.9,1149.3 1840.1,1149.2 1842.3,1149.9 1844.5,1150.5 1846.7,1150.9 1848.9,1150.9 1851.1,1150.9 1853.3,1150.5 1855.5,1150.3 1857.7,1150.3 1859.9,1151.0 1862.1,1151.1 1864.3,1151.2 1866.5,1150.8 1868.7,1150.9 1870.9,1150.8 1873.1,1151.1 1875.3,1151.4 1877.5,1151.3 1879.7,1150.9 1881.9,1150.0 1884.1,1149.4 1886.3,1149.0 1888.5,1149.0 1890.7,1149.3 1892.9,1149.4 1895.1,1149.6 1897.3,1149.3 1899.5,1149.5 1901.7,1149.7 1903.9,1149.9 1906.1,1147.4 1908.3,1150.3 1910.5,1150.9 1912.7,1151.0 1914.9,1151.2 1917.1,1151.1 1919.3,1151.3 1921.5,1150.9 1923.7,1150.9 1925.9,1150.9 1932.0,1150.9 1937.0,1144.0 1940.0,1133.0 1943.5,1100.0 1944.7,1047.0 1948.0,1010.0 1950.5,986.0 1955.0,960.0 1957.7,850.0 1961.5,830.0 1962.3,765.0 1964.6,740.0 1968.0,700.0 1971.0,665.0 1974.5,645.0 1978.0,655.0 1980.3,690.0 1981.0,750.0 1983.0,770.0 1984.0,960.0 1990.0,1000.0 1995.7,1030.0 1996.3,1050.0 1999.0,1100.0 2006.0,1134.0 2015.0,1143.0 2026.0,1149.8 2028.0,1149.8 2030.2,1150.1 2032.4,1150.2 2034.6,1150.3 2036.8,1149.8 2039.0,1149.3 2041.2,1148.7 2043.4,1146.7 2045.6,1147.6 2047.8,1147.4 2050.0,1147.9 2052.2,1148.7 2054.4,1149.2 2056.6,1149.2 2058.8,1149.1 2061.0,1148.9 2063.2,1148.5 2065.4,1148.0 2067.6,1148.1 2069.8,1148.4 2072.0,1148.5 2074.2,1148.1 2076.4,1147.5 2078.6,1147.9 2080.8,1148.5 2083.0,1149.3 2085.2,1148.5 2087.4,1147.7 2089.6,1147.4 2091.8,1148.1 2094.0,1149.0 2096.2,1149.3 2098.4,1149.6 2100.6,1149.6 2102.8,1149.0 2105.0,1148.0 2107.2,1147.7 2109.4,1147.6 2111.6,1148.0 2113.8,1148.0 2116.0,1148.8 2118.2,1148.9 2120.4,1149.1 2122.6,1148.2 2124.8,1147.9 2127.0,1147.8 2129.2,1148.3 2131.4,1148.8 2133.6,1149.1 2135.8,1149.1 2138.0,1148.6 2140.2,1148.4 2142.4,1148.4 2144.6,1148.4 2146.8,1148.9 2149.0,1147.7 2151.2,1148.1 2153.4,1148.8 2155.6,1149.6 2157.8,1149.9 2160.0,1149.7 2162.2,1149.3 2164.4,1148.9 2166.6,1148.6 2168.8,1148.3 2171.0,1148.2 2173.2,1148.2 2175.4,1148.4 2177.6,1148.5 2179.8,1148.9 2182.0,1149.1 2184.2,1149.5 2186.4,1149.1 2188.6,1149.2 2190.8,1148.6 2193.0,1148.5 2195.2,1148.4 2197.4,1148.8 2199.6,1148.9 2201.8,1148.7 2204.0,1148.7 2206.2,1148.6 2208.4,1148.5 2210.6,1148.3 2212.8,1148.3"/>
<path stroke="#37ad6b" d="M247.3,1149.0 249.5,1149.1 251.7,1148.9 253.9,1149.2 256.1,1149.3 258.3,1149.4 260.5,1149.2 262.7,1146.3 264.9,1149.2 267.1,1149.2 269.3,1148.9 271.5,1149.0 273.7,1149.5 275.9,1149.1 278.1,1149.8 280.3,1149.4 282.5,1149.2 284.7,1149.3 286.9,1149.5 289.1,1149.5 291.3,1148.9 293.5,1148.6 295.7,1148.3 297.9,1148.7 300.1,1148.9 302.3,1149.1 304.5,1149.0 306.7,1148.9 308.9,1149.1 311.1,1149.2 313.3,1149.3 315.5,1149.0 317.7,1148.9 319.9,1148.6 322.1,1148.5 324.3,1148.2 326.5,1147.9 328.7,1147.8 330.9,1147.8 333.1,1147.8 335.3,1147.8 337.5,1148.1 339.7,1148.7 341.9,1149.1 344.1,1149.5 346.3,1149.4 348.5,1149.3 350.7,1148.9 352.9,1148.5 355.1,1148.3 357.3,1148.4 359.5,1148.6 361.7,1148.7 363.9,1148.9 366.1,1148.8 368.3,1148.6 370.5,1148.3 372.7,1148.2 374.9,1148.2 377.1,1148.7 379.3,1149.0 381.5,1149.3 383.7,1149.0 385.9,1148.6 388.1,1147.9 390.3,1147.6 392.5,1147.2 394.7,1147.0 396.9,1147.2 399.1,1147.9 401.3,1149.9 403.5,1149.1 405.7,1149.0 407.9,1148.9 410.1,1149.0 412.3,1148.9 414.5,1148.9 416.7,1148.5 418.9,1148.6 421.1,1148.7 423.3,1148.6 425.5,1148.4 427.7,1147.9 429.9,1148.0 432.1,1148.2 434.3,1148.8 436.5,1148.9 438.7,1148.7 440.9,1148.1 443.1,1148.1 445.3,1148.2 447.5,1148.1 449.7,1147.8 451.9,1147.6 454.1,1148.2 456.3,1148.5 458.5,1148.6 460.7,1147.7 462.9,1147.1 465.1,1146.7 467.3,1147.3 469.5,1147.6 471.7,1148.0 473.9,1147.8 476.1,1147.8 478.3,1147.5 480.5,1147.6 482.7,1147.5 484.9,1147.3 487.1,1146.8 489.3,1146.4 491.5,1146.4 493.7,1146.5 495.9,1146.6 498.1,1147.0 500.3,1147.4 502.5,1147.7 504.7,1147.5 506.9,1147.4 509.1,1147.5 511.3,1147.8 513.5,1148.1 515.7,1147.9 517.9,1147.5 520.1,1147.0 522.3,1146.9 524.5,1146.6 526.7,1146.4 528.9,1146.4 531.1,1146.5 533.3,1146.4 535.5,1146.2 537.7,1146.1 539.9,1146.1 542.1,1145.9 544.3,1145.8 546.5,1145.5 548.7,1145.5 550.9,1145.4 553.1,1145.4 555.3,1145.3 557.5,1145.2 559.7,1144.9 561.9,1145.0 564.1,1145.0 566.3,1145.5 568.5,1145.4 570.7,1145.1 572.9,1144.5 575.1,1144.1 577.3,1143.9 579.5,1143.5 581.7,1143.1 583.9,1142.6 586.1,1142.8 588.3,1143.7 590.5,1144.7 592.7,1144.8 594.9,1144.4 597.1,1143.8 599.3,1143.8 601.5,1143.8 603.7,1143.7 605.9,1143.7 608.1,1143.4 610.3,1143.2 612.5,1142.5 614.7,1142.0 616.9,1141.7 619.1,1141.7 621.3,1141.5 623.5,1140.9 625.7,1140.2 627.9,1139.8 630.1,1139.9 632.3,1139.9 634.5,1139.6 636.7,1139.0 638.9,1139.0 641.1,1139.2 643.3,1139.7 645.5,1139.2 647.7,1138.4 649.9,1137.3 652.1,1136.8 654.3,1136.1 656.5,1135.3 658.7,1134.4 660.9,1134.1 663.1,1134.3 665.3,1134.3 667.5,1134.0 669.7,1132.9 671.9,1131.4 674.1,1130.0 676.3,1129.2 678.5,1128.8 680.7,1128.3 682.9,1127.5 685.1,1126.7 687.3,1125.9 689.5,1124.7 691.7,1122.9 693.9,1121.3 696.1,1119.7 698.3,1118.5 700.5,1117.0 702.7,1115.5 704.9,1112.9 707.1,1111.5 709.3,1109.5 711.5,1107.5 713.7,1105.3 715.9,1103.0 718.1,1100.1 720.3,1096.9 722.5,1093.5 724.7,1090.0 726.9,1086.5 729.1,1082.4 731.3,1078.3 733.5,1073.8 735.7,1068.9 737.9,1063.4 740.1,1057.6 742.3,1051.7 744.5,1045.6 746.7,1038.9 748.9,1031.7 751.1,1024.4 753.3,1017.0 755.5,1009.7 757.7,1002.3 759.9,995.0 762.1,988.0 764.3,981.3 766.5,975.1 768.7,969.5 770.9,964.6 773.1,960.5 775.3,957.9 777.5,961.5 779.7,965.9 781.9,970.7 784.1,976.4 786.3,982.7 788.5,989.6 790.7,996.5 792.9,1003.9 795.1,1011.4 797.3,1019.0 799.5,1026.4 801.7,1033.4 803.9,1040.1 806.1,1046.5 808.3,1052.7 810.5,1058.6 812.7,1064.3 814.9,1069.7 817.1,1074.6 819.3,1079.0 821.5,1083.0 823.7,1086.7 825.9,1090.4 828.1,1094.0 830.3,1097.6 832.5,1100.7 834.7,1103.2 836.9,1105.4 839.1,1107.5 841.3,1109.6 843.5,1111.3 845.7,1113.0 847.9,1115.0 850.1,1116.8 852.3,1118.3 854.5,1119.3 856.7,1120.5 858.9,1121.6 861.1,1122.8 863.3,1124.0 865.5,1125.2 867.7,1126.0 869.9,1126.8 872.1,1127.6 874.3,1128.6 876.5,1129.7 878.7,1130.5 880.9,1131.3 883.1,1131.7 885.3,1132.5 887.5,1133.1 889.7,1133.8 891.9,1134.2 894.1,1134.7 896.3,1134.9 898.5,1135.3 900.7,1136.0 902.9,1136.5 905.1,1137.0 907.3,1137.0 909.5,1137.4 911.7,1137.6 913.9,1138.0 916.1,1138.0 918.3,1138.1 920.5,1137.8 922.7,1137.6 924.9,1137.5 927.1,1138.1 929.3,1138.7 931.5,1139.2 933.7,1139.1 935.9,1139.0 938.1,1139.1 940.3,1141.6 942.5,1140.1 944.7,1138.6 946.9,1140.3 949.1,1140.3 951.3,1140.0 953.5,1138.9 955.7,1137.9 957.9,1136.5 960.1,1135.5 962.3,1134.2 964.5,1133.4 966.7,1133.2 968.9,1133.4 971.1,1133.2 973.3,1134.5 975.5,1132.8 977.7,1132.4 979.9,1131.8 982.1,1131.0 984.3,1130.4 986.5,1130.5 988.7,1130.9 990.9,1131.6 993.1,1132.1 995.3,1132.8 997.5,1132.9 999.7,1133.1 1001.9,1133.1 1004.1,1133.5 1006.3,1133.7 1008.5,1134.0 1010.7,1134.2 1012.9,1134.3 1015.1,1134.7 1017.3,1135.0 1019.5,1135.5 1021.7,1135.8 1023.9,1136.1 1026.1,1136.1 1028.3,1136.2 1030.5,1136.4 1032.7,1136.9 1034.9,1137.4 1037.1,1137.7 1039.3,1137.8 1041.5,1138.0 1043.7,1138.4 1045.9,1139.0 1048.1,1138.7 1050.3,1137.5 1052.5,1137.8 1054.7,1138.1 1056.9,1138.4 1059.1,1138.8 1061.3,1139.0 1063.5,1139.2 1065.7,1139.3 1067.9,1139.2 1070.1,1139.1 1072.3,1138.9 1074.5,1139.3 1076.7,1139.5 1078.9,1139.6 1081.1,1139.7 1083.3,1139.3 1085.5,1139.5 1087.7,1139.3 1089.9,1139.4 1092.1,1139.1 1094.3,1139.3 1096.5,1139.8 1098.7,1139.9 1100.9,1139.6 1103.1,1139.4 1105.3,1139.7 1107.5,1140.0 1109.7,1139.9 1111.9,1139.5 1114.1,1139.3 1116.3,1139.3 1118.5,1139.0 1120.7,1138.9 1122.9,1138.8 1125.1,1139.4 1127.3,1139.9 1129.5,1140.4 1131.7,1140.6 1133.9,1140.8 1136.1,1141.3 1138.3,1141.7 1140.5,1141.7 1142.7,1141.0 1144.9,1140.3 1147.1,1140.0 1149.3,1140.1 1151.5,1140.1 1153.7,1140.0 1155.9,1139.9 1158.1,1139.9 1160.3,1139.9 1162.5,1139.9 1164.7,1140.5 1166.9,1140.9 1169.1,1141.3 1171.3,1140.7 1173.5,1140.3 1175.7,1139.8 1177.9,1140.0 1180.1,1139.7 1182.3,1139.9 1184.5,1139.9 1186.7,1140.3 1188.9,1140.3 1191.1,1140.7 1193.3,1140.8 1195.5,1141.2 1197.7,1141.6 1199.9,1141.8 1202.1,1141.9 1204.3,1141.6 1206.5,1141.5 1208.7,1141.1 1210.9,1140.7 1213.1,1140.3 1215.3,1140.2 1217.5,1140.6 1219.7,1140.8 1221.9,1141.3 1224.1,1141.5 1226.3,1141.6 1228.5,1142.5 1230.7,1147.8 1232.9,1148.6 1235.1,1148.8 1237.3,1149.0 1239.5,1149.0 1241.7,1149.0 1243.9,1149.2 1246.1,1149.3 1248.3,1147.9 1250.5,1149.3 1252.7,1149.2 1254.9,1149.1 1257.1,1149.2 1259.3,1149.4 1261.5,1149.5 1263.7,1149.3 1265.9,1149.1 1268.1,1149.1 1270.3,1148.9 1272.5,1148.7 1274.7,1148.2 1276.9,1148.0 1279.1,1148.0 1281.3,1148.2 1283.5,1148.5 1285.7,1148.3 1287.9,1148.0 1290.1,1147.4 1292.3,1147.5 1294.5,1147.8 1296.7,1148.1 1298.9,1147.9 1301.1,1147.6 1303.3,1147.5 1305.5,1147.6 1307.7,1147.6 1309.9,1147.7 1312.1,1147.8 1314.3,1148.2 1316.5,1148.2 1318.7,1148.2 1320.9,1147.8 1323.1,1147.9 1325.3,1148.1 1327.5,1148.4 1329.7,1148.8 1331.9,1149.1 1334.1,1149.3 1336.3,1149.1 1338.5,1149.0 1340.7,1148.9 1342.9,1149.1 1345.1,1149.2 1347.3,1149.3 1349.5,1149.1 1351.7,1148.8 1353.9,1148.5 1356.1,1148.6 1358.3,1148.8 1360.5,1149.3 1362.7,1149.3 1364.9,1149.4 1367.1,1149.2 1369.3,1149.3 1371.5,1149.4 1373.7,1149.3 1375.9,1149.0 1378.1,1147.7 1380.3,1148.5 1382.5,1148.5 1384.7,1148.4 1386.9,1148.4 1389.1,1148.7 1391.3,1148.9 1393.5,1148.7 1395.7,1148.1 1397.9,1148.2 1400.1,1148.4 1402.3,1148.8 1404.5,1148.8 1406.7,1149.0 1408.9,1148.9 1411.1,1148.8 1413.3,1148.7 1415.5,1148.9 1417.7,1149.6 1419.9,1149.9 1422.1,1150.2 1424.3,1149.8 1426.5,1149.5 1428.7,1149.0 1430.9,1148.6 1433.1,1148.6 1435.3,1148.5 1437.5,1148.7 1439.7,1148.7 1441.9,1148.7 1444.1,1148.7 1446.3,1148.8 1448.5,1149.1 1450.7,1149.4 1452.9,1149.5 1455.1,1149.2 1457.3,1149.0 1459.5,1148.3 1461.7,1148.1 1463.9,1147.8 1466.1,1148.6 1468.3,1149.1 1470.5,1149.6 1472.7,1149.4 1474.9,1149.1 1477.1,1148.8 1479.3,1148.9 1481.5,1149.1 1483.7,1149.3 1485.9,1149.1 1488.1,1148.8 1490.3,1148.4 1492.5,1148.0 1494.7,1148.2 1496.9,1148.6 1499.1,1149.4 1501.3,1149.6 1503.5,1149.4 1505.7,1148.9 1507.9,1148.5 1510.1,1148.4 1512.3,1148.7 1514.5,1148.5 1516.7,1148.5 1518.9,1148.7 1521.1,1148.7 1523.3,1148.4 1525.5,1148.1 1527.7,1147.9 1529.9,1148.2 1532.1,1148.6 1534.3,1149.1 1536.5,1149.7 1538.7,1149.9 1540.9,1151.6 1543.1,1149.2 1545.3,1148.8 1547.5,1148.5 1549.7,1148.6 1551.9,1148.4 1554.1,1148.1 1556.3,1147.7 1558.5,1147.4 1560.7,1147.6 1562.9,1147.9 1565.1,1148.2 1567.3,1148.4 1569.5,1148.5 1571.7,1148.7 1573.9,1148.9 1576.1,1149.2 1578.3,1149.2 1580.5,1149.1 1582.7,1149.2 1584.9,1149.2 1587.1,1149.1 1589.3,1148.5 1591.5,1148.0 1593.7,1148.0 1595.9,1148.3 1598.1,1148.7 1600.3,1148.6 1602.5,1148.6 1604.7,1148.6 1606.9,1149.4 1609.1,1149.5 1611.3,1149.5 1613.5,1148.8 1615.7,1148.5 1617.9,1148.2 1620.1,1148.3 1622.3,1148.5 1624.5,1148.6 1626.7,1148.5 1628.9,1148.4 1631.1,1148.7 1633.3,1148.9 1635.5,1149.1 1637.7,1148.9 1639.9,1149.2 1642.1,1149.4 1644.3,1149.6 1646.5,1149.3 1648.7,1148.8 1650.9,1148.1 1653.1,1147.6 1655.3,1147.6 1657.5,1147.9 1659.7,1148.3 1661.9,1148.0 1664.1,1147.8 1666.3,1148.0 1668.5,1148.9 1670.7,1149.4 1672.9,1149.4 1675.1,1149.2 1677.3,1149.3 1679.5,1149.5 1681.7,1149.8 1683.9,1149.9 1686.1,1149.4 1688.3,1148.8 1690.5,1148.3 1692.7,1148.2 1694.9,1148.6 1697.1,1149.1 1699.3,1149.6 1701.5,1149.7 1703.7,1149.2 1705.9,1148.3 1708.1,1147.8 1710.3,1147.9 1712.5,1148.6 1714.7,1148.9 1716.9,1148.8 1719.1,1148.9 1721.3,1149.3 1723.5,1152.8 1725.7,1149.3 1727.9,1149.0 1730.1,1149.2 1732.3,1149.5 1734.5,1149.8 1736.7,1149.8 1738.9,1149.7 1741.1,1149.4 1743.3,1149.6 1745.5,1149.6 1747.7,1149.7 1749.9,1149.1 1752.1,1149.2 1754.3,1149.1 1756.5,1149.5 1758.7,1149.3 1760.9,1149.4 1763.1,1149.0 1765.3,1148.9 1767.5,1148.8 1769.7,1149.2 1771.9,1149.0 1774.1,1148.8 1776.3,1148.4 1778.5,1148.8 1780.7,1148.9 1782.9,1149.0 1785.1,1148.6 1787.3,1148.4 1789.5,1148.4 1791.7,1148.5 1793.9,1148.7 1796.1,1149.2 1798.3,1149.4 1800.5,1149.7 1802.7,1149.6 1804.9,1149.3 1807.1,1148.8 1809.3,1148.4 1811.5,1148.1 1813.7,1147.6 1815.9,1148.7 1818.1,1149.2 1820.3,1149.1 1822.5,1149.1 1824.7,1149.0 1826.9,1149.0 1829.1,1148.4 1831.3,1148.0 1833.5,1147.9 1835.7,1148.0 1837.9,1147.9 1840.1,1147.5 1842.3,1147.3 1844.5,1147.6 1846.7,1148.0 1848.9,1148.4 1851.1,1148.6 1853.3,1148.6 1855.5,1148.7 1857.7,1148.8 1859.9,1149.0 1862.1,1149.1 1864.3,1149.0 1866.5,1149.3 1868.7,1149.3 1870.9,1149.5 1873.1,1149.0 1875.3,1148.7 1877.5,1148.5 1879.7,1148.6 1881.9,1148.4 1884.1,1148.4 1886.3,1148.0 1888.5,1147.9 1890.7,1147.7 1892.9,1147.9 1895.1,1148.4 1897.3,1148.6 1899.5,1148.8 1901.7,1148.7 1903.9,1148.7 1906.1,1148.6 1908.3,1148.3 1910.5,1148.2 1912.7,1148.2 1914.9,1147.9 1917.1,1147.4 1919.3,1147.0 1921.5,1147.4 1923.7,1148.2 1925.9,1148.9 1934.0,1148.9 1941.0,1144.0 1947.0,1135.0 1950.5,1120.0 1953.5,1090.0 1955.0,960.0 1954.5,840.0 1951.3,830.0 1951.6,778.0 1957.0,740.0 1962.0,690.0 1966.6,670.0 1967.0,537.0 1970.5,488.0 1971.5,438.0 1974.2,416.0 1977.0,440.0 1979.0,480.0 1983.0,505.0 1987.0,525.0 1988.0,700.0 1988.5,1060.0 1989.5,1146.0 1994.0,1138.0 2003.0,1142.0 2011.3,1153.0 2017.0,1144.0 2026.0,1148.6 2028.0,1148.6 2030.2,1148.2 2032.4,1148.0 2034.6,1148.0 2036.8,1148.4 2039.0,1148.6 2041.2,1148.2 2043.4,1147.6 2045.6,1147.4 2047.8,1147.7 2050.0,1148.0 2052.2,1148.4 2054.4,1148.4 2056.6,1148.6 2058.8,1148.3 2061.0,1148.6 2063.2,1148.7 2065.4,1148.9 2067.6,1148.6 2069.8,1148.2 2072.0,1148.2 2074.2,1147.9 2076.4,1148.2 2078.6,1148.4 2080.8,1148.6 2083.0,1148.1 2085.2,1147.8 2087.4,1147.9 2089.6,1148.2 2091.8,1148.4 2094.0,1148.2 2096.2,1148.5 2098.4,1148.6 2100.6,1149.2 2102.8,1149.2 2105.0,1149.2 2107.2,1148.9 2109.4,1149.0 2111.6,1148.8 2113.8,1148.2 2116.0,1147.3 2118.2,1146.7 2120.4,1146.7 2122.6,1147.3 2124.8,1148.2 2127.0,1149.1 2129.2,1149.2 2131.4,1149.2 2133.6,1149.1 2135.8,1149.4 2138.0,1149.2 2140.2,1148.8 2142.4,1148.2 2144.6,1148.2 2146.8,1148.3 2149.0,1148.6 2151.2,1148.7 2153.4,1149.0 2155.6,1149.1 2157.8,1149.0 2160.0,1148.4 2162.2,1148.0 2164.4,1147.8 2166.6,1147.7 2168.8,1147.6 2171.0,1147.6 2173.2,1148.3 2175.4,1148.9 2177.6,1148.9 2179.8,1148.3 2182.0,1147.8 2184.2,1147.6 2186.4,1148.0 2188.6,1148.7 2190.8,1149.7 2193.0,1149.8 2195.2,1150.0 2197.4,1149.7 2199.6,1149.5 2201.8,1149.3 2204.0,1149.3 2206.2,1149.2 2208.4,1148.9 2210.6,1148.8 2212.8,1148.9"/>
<path stroke="#b177de" d="M247.3,1146.6 249.5,1146.7 251.7,1146.6 253.9,1146.8 256.1,1146.6 258.3,1146.5 260.5,1146.1 262.7,1146.2 264.9,1146.5 267.1,1146.8 269.3,1146.8 271.5,1146.3 273.7,1148.1 275.9,1145.8 278.1,1146.1 280.3,1146.1 282.5,1146.3 284.7,1146.0 286.9,1146.0 289.1,1145.9 291.3,1146.0 293.5,1146.2 295.7,1146.1 297.9,1146.2 300.1,1146.2 302.3,1146.6 304.5,1146.8 306.7,1147.0 308.9,1146.8 311.1,1146.3 313.3,1145.6 315.5,1145.4 317.7,1145.5 319.9,1146.1 322.1,1146.4 324.3,1146.3 326.5,1145.9 328.7,1145.6 330.9,1145.5 333.1,1145.8 335.3,1146.4 337.5,1146.9 339.7,1146.9 341.9,1146.4 344.1,1145.9 346.3,1145.6 348.5,1145.8 350.7,1145.8 352.9,1145.7 355.1,1145.7 357.3,1145.8 359.5,1145.9 361.7,1145.7 363.9,1145.7 366.1,1145.8 368.3,1146.2 370.5,1146.5 372.7,1146.7 374.9,1146.7 377.1,1146.4 379.3,1145.9 381.5,1145.4 383.7,1145.1 385.9,1145.2 388.1,1145.1 390.3,1145.5 392.5,1145.6 394.7,1145.9 396.9,1145.8 399.1,1145.7 401.3,1145.7 403.5,1145.8 405.7,1146.0 407.9,1145.9 410.1,1145.8 412.3,1145.5 414.5,1145.5 416.7,1145.6 418.9,1145.7 421.1,1145.7 423.3,1145.5 425.5,1145.5 427.7,1145.4 429.9,1145.5 432.1,1145.2 434.3,1145.2 436.5,1145.0 438.7,1145.1 440.9,1144.9 443.1,1145.0 445.3,1144.8 447.5,1144.7 449.7,1144.5 451.9,1144.3 454.1,1144.3 456.3,1144.3 458.5,1144.5 460.7,1144.6 462.9,1144.8 465.1,1145.0 467.3,1144.8 469.5,1144.6 471.7,1144.3 473.9,1144.5 476.1,1144.6 478.3,1144.8 480.5,1145.0 482.7,1144.7 484.9,1144.4 487.1,1143.9 489.3,1143.9 491.5,1144.1 493.7,1144.5 495.9,1144.3 498.1,1144.1 500.3,1144.0 502.5,1144.2 504.7,1144.4 506.9,1144.2 509.1,1144.0 511.3,1143.7 513.5,1143.8 515.7,1144.0 517.9,1144.1 520.1,1144.1 522.3,1143.9 524.5,1143.8 526.7,1143.5 528.9,1143.2 531.1,1143.1 533.3,1143.1 535.5,1143.3 537.7,1143.3 539.9,1143.0 542.1,1142.9 544.3,1142.8 546.5,1142.7 548.7,1142.5 550.9,1142.6 553.1,1142.5 555.3,1142.6 557.5,1142.3 559.7,1142.1 561.9,1141.7 564.1,1141.6 566.3,1141.6 568.5,1141.5 570.7,1141.4 572.9,1141.4 575.1,1141.5 577.3,1141.5 579.5,1141.4 581.7,1141.1 583.9,1140.8 586.1,1140.7 588.3,1140.5 590.5,1140.2 592.7,1139.7 594.9,1139.4 597.1,1139.4 599.3,1139.3 601.5,1139.3 603.7,1139.1 605.9,1138.9 608.1,1138.7 610.3,1138.4 612.5,1138.1 614.7,1137.7 616.9,1137.1 619.1,1136.8 621.3,1136.7 623.5,1136.9 625.7,1136.6 627.9,1136.1 630.1,1135.6 632.3,1135.2 634.5,1135.1 636.7,1134.7 638.9,1134.1 641.1,1133.6 643.3,1133.3 645.5,1133.1 647.7,1130.4 649.9,1132.2 652.1,1131.5 654.3,1130.8 656.5,1130.2 658.7,1129.4 660.9,1128.5 663.1,1127.4 665.3,1126.7 667.5,1126.2 669.7,1126.0 671.9,1125.4 674.1,1124.1 676.3,1122.6 678.5,1121.2 680.7,1120.0 682.9,1118.9 685.1,1117.7 687.3,1116.3 689.5,1114.9 691.7,1113.5 693.9,1112.1 696.1,1110.5 698.3,1108.7 700.5,1106.7 702.7,1104.5 704.9,1102.3 707.1,1100.0 709.3,1097.3 711.5,1094.4 713.7,1091.0 715.9,1087.6 718.1,1084.0 720.3,1080.3 722.5,1076.3 724.7,1071.8 726.9,1067.0 729.1,1061.9 731.3,1056.3 733.5,1050.4 735.7,1043.9 737.9,1037.1 740.1,1029.9 742.3,1022.3 744.5,1014.1 746.7,1005.4 748.9,996.3 751.1,987.0 753.3,977.5 755.5,967.8 757.7,958.0 759.9,948.5 762.1,939.3 764.3,930.7 766.5,922.8 768.7,915.6 770.9,909.4 773.1,904.0 775.3,900.7 777.5,905.4 779.7,910.9 781.9,917.4 784.1,924.8 786.3,933.0 788.5,941.9 790.7,951.2 792.9,960.6 795.1,970.1 797.3,979.8 799.5,989.4 801.7,998.8 803.9,1007.8 806.1,1016.2 808.3,1024.1 810.5,1031.6 812.7,1038.7 814.9,1045.4 817.1,1051.6 819.3,1057.4 821.5,1062.9 823.7,1067.9 825.9,1072.6 828.1,1076.7 830.3,1080.6 832.5,1084.3 834.7,1087.9 836.9,1091.1 839.1,1094.0 841.3,1096.7 843.5,1099.3 845.7,1101.7 847.9,1104.0 850.1,1106.1 852.3,1108.3 854.5,1110.0 856.7,1111.6 858.9,1113.0 861.1,1114.3 863.3,1115.7 865.5,1117.1 867.7,1118.6 869.9,1119.9 872.1,1121.0 874.3,1121.9 876.5,1122.8 878.7,1123.8 880.9,1124.8 883.1,1125.5 885.3,1126.1 887.5,1126.6 889.7,1127.2 891.9,1127.9 894.1,1128.7 896.3,1129.6 898.5,1130.2 900.7,1130.5 902.9,1130.5 905.1,1130.8 907.3,1131.4 909.5,1132.3 911.7,1133.2 913.9,1133.7 916.1,1134.0 918.3,1134.2 920.5,1134.3 922.7,1134.4 924.9,1134.4 927.1,1134.3 929.3,1134.5 931.5,1134.9 933.7,1135.4 935.9,1135.8 938.1,1136.0 940.3,1136.2 942.5,1136.2 944.7,1136.5 946.9,1136.5 949.1,1136.6 951.3,1136.3 953.5,1136.4 955.7,1136.6 957.9,1137.0 960.1,1137.2 962.3,1137.7 964.5,1138.1 966.7,1138.5 968.9,1138.7 971.1,1138.9 973.3,1138.9 975.5,1138.9 977.7,1139.1 979.9,1139.0 982.1,1139.2 984.3,1139.2 986.5,1139.5 988.7,1139.3 990.9,1139.3 993.1,1138.8 995.3,1138.8 997.5,1138.8 999.7,1139.2 1001.9,1139.6 1004.1,1139.9 1006.3,1140.1 1008.5,1140.1 1010.7,1140.4 1012.9,1140.7 1015.1,1140.9 1017.3,1140.8 1019.5,1140.7 1021.7,1140.7 1023.9,1140.8 1026.1,1141.1 1028.3,1141.4 1030.5,1141.5 1032.7,1141.5 1034.9,1141.3 1037.1,1141.2 1039.3,1141.3 1041.5,1141.6 1043.7,1141.8 1045.9,1141.7 1048.1,1141.3 1050.3,1140.9 1052.5,1140.6 1054.7,1140.5 1056.9,1140.7 1059.1,1141.0 1061.3,1141.3 1063.5,1141.5 1065.7,1141.8 1067.9,1141.9 1070.1,1141.7 1072.3,1141.3 1074.5,1141.2 1076.7,1141.4 1078.9,1141.5 1081.1,1141.7 1083.3,1141.6 1085.5,1141.8 1087.7,1141.8 1089.9,1142.0 1092.1,1142.1 1094.3,1142.2 1096.5,1142.4 1098.7,1142.4 1100.9,1142.4 1103.1,1142.3 1105.3,1142.7 1107.5,1143.3 1109.7,1143.8 1111.9,1143.6 1114.1,1143.1 1116.3,1142.7 1118.5,1142.8 1120.7,1142.9 1122.9,1142.9 1125.1,1142.4 1127.3,1142.2 1129.5,1141.9 1131.7,1141.7 1133.9,1141.7 1136.1,1142.1 1138.3,1141.9 1140.5,1143.3 1142.7,1143.3 1144.9,1143.1 1147.1,1142.6 1149.3,1142.5 1151.5,1142.3 1153.7,1142.3 1155.9,1142.1 1158.1,1142.2 1160.3,1142.3 1162.5,1142.7 1164.7,1142.9 1166.9,1143.1 1169.1,1143.0 1171.3,1143.0 1173.5,1142.9 1175.7,1142.8 1177.9,1142.6 1180.1,1142.6 1182.3,1142.7 1184.5,1142.8 1186.7,1142.7 1188.9,1142.7 1191.1,1142.6 1193.3,1142.7 1195.5,1142.8 1197.7,1143.2 1199.9,1143.2 1202.1,1143.1 1204.3,1142.9 1206.5,1143.0 1208.7,1143.1 1210.9,1143.2 1213.1,1143.0 1215.3,1143.1 1217.5,1143.1 1219.7,1143.1 1221.9,1142.8 1224.1,1142.8 1226.3,1142.7 1228.5,1143.1 1230.7,1145.8 1232.9,1147.3 1235.1,1147.5 1237.3,1147.6 1239.5,1147.9 1241.7,1148.1 1243.9,1148.1 1246.1,1148.1 1248.3,1148.2 1250.5,1148.3 1252.7,1148.3 1254.9,1148.1 1257.1,1147.8 1259.3,1147.6 1261.5,1147.6 1263.7,1147.8 1265.9,1148.0 1268.1,1148.1 1270.3,1148.7 1272.5,1147.8 1274.7,1147.9 1276.9,1147.9 1279.1,1147.8 1281.3,1147.6 1283.5,1147.5 1285.7,1147.5 1287.9,1147.9 1290.1,1148.1 1292.3,1148.4 1294.5,1148.0 1296.7,1147.8 1298.9,1147.6 1301.1,1147.7 1303.3,1147.6 1305.5,1147.4 1307.7,1147.2 1309.9,1147.2 1312.1,1147.5 1314.3,1147.9 1316.5,1148.0 1318.7,1147.9 1320.9,1147.6 1323.1,1147.5 1325.3,1147.5 1327.5,1147.4 1329.7,1147.3 1331.9,1147.4 1334.1,1148.0 1336.3,1148.5 1338.5,1148.8 1340.7,1148.6 1342.9,1148.4 1345.1,1148.1 1347.3,1148.0 1349.5,1147.9 1351.7,1147.9 1353.9,1147.7 1356.1,1147.6 1358.3,1147.6 1360.5,1147.8 1362.7,1147.9 1364.9,1147.8 1367.1,1147.5 1369.3,1147.7 1371.5,1148.0 1373.7,1148.2 1375.9,1148.3 1378.1,1148.3 1380.3,1147.0 1382.5,1147.9 1384.7,1147.9 1386.9,1148.1 1389.1,1148.3 1391.3,1148.3 1393.5,1147.9 1395.7,1147.6 1397.9,1147.5 1400.1,1147.7 1402.3,1147.9 1404.5,1148.0 1406.7,1147.9 1408.9,1147.4 1411.1,1147.1 1413.3,1146.9 1415.5,1147.1 1417.7,1147.3 1419.9,1147.6 1422.1,1147.9 1424.3,1148.3 1426.5,1148.1 1428.7,1147.9 1430.9,1147.6 1433.1,1147.6 1435.3,1147.4 1437.5,1147.3 1439.7,1147.5 1441.9,1147.7 1444.1,1147.7 1446.3,1147.4 1448.5,1147.2 1450.7,1147.2 1452.9,1147.7 1455.1,1147.9 1457.3,1147.9 1459.5,1147.6 1461.7,1147.4 1463.9,1147.3 1466.1,1147.4 1468.3,1147.6 1470.5,1147.8 1472.7,1148.0 1474.9,1147.9 1477.1,1147.8 1479.3,1147.7 1481.5,1147.6 1483.7,1147.6 1485.9,1147.4 1488.1,1147.5 1490.3,1147.6 1492.5,1148.0 1494.7,1148.2 1496.9,1148.3 1499.1,1148.1 1501.3,1148.0 1503.5,1147.8 1505.7,1147.8 1507.9,1147.7 1510.1,1147.5 1512.3,1147.4 1514.5,1147.4 1516.7,1147.6 1518.9,1148.0 1521.1,1147.9 1523.3,1147.8 1525.5,1147.4 1527.7,1147.2 1529.9,1147.0 1532.1,1147.1 1534.3,1147.2 1536.5,1147.4 1538.7,1147.4 1540.9,1147.2 1543.1,1147.0 1545.3,1146.9 1547.5,1147.0 1549.7,1147.3 1551.9,1147.6 1554.1,1147.8 1556.3,1147.9 1558.5,1147.9 1560.7,1147.5 1562.9,1147.4 1565.1,1147.4 1567.3,1147.5 1569.5,1147.4 1571.7,1147.2 1573.9,1147.0 1576.1,1146.9 1578.3,1147.1 1580.5,1147.1 1582.7,1147.2 1584.9,1147.3 1587.1,1147.5 1589.3,1147.6 1591.5,1147.4 1593.7,1147.1 1595.9,1146.9 1598.1,1146.9 1600.3,1146.9 1602.5,1146.8 1604.7,1146.7 1606.9,1146.7 1609.1,1146.8 1611.3,1147.0 1613.5,1147.4 1615.7,1147.7 1617.9,1148.0 1620.1,1148.1 1622.3,1148.0 1624.5,1147.6 1626.7,1147.1 1628.9,1146.8 1631.1,1146.9 1633.3,1147.0 1635.5,1147.1 1637.7,1147.0 1639.9,1146.1 1642.1,1147.0 1644.3,1147.1 1646.5,1147.1 1648.7,1147.1 1650.9,1146.7 1653.1,1146.6 1655.3,1146.4 1657.5,1146.5 1659.7,1146.6 1661.9,1146.9 1664.1,1146.9 1666.3,1146.8 1668.5,1146.4 1670.7,1146.3 1672.9,1146.1 1675.1,1146.3 1677.3,1146.3 1679.5,1146.4 1681.7,1146.1 1683.9,1146.2 1686.1,1146.4 1688.3,1146.8 1690.5,1146.8 1692.7,1146.6 1694.9,1146.4 1697.1,1146.4 1699.3,1146.4 1701.5,1146.3 1703.7,1146.3 1705.9,1146.4 1708.1,1146.6 1710.3,1146.9 1712.5,1146.9 1714.7,1146.7 1716.9,1146.5 1719.1,1146.5 1721.3,1146.7 1723.5,1147.0 1725.7,1147.2 1727.9,1147.0 1730.1,1146.6 1732.3,1146.3 1734.5,1146.4 1736.7,1146.6 1738.9,1146.5 1741.1,1146.5 1743.3,1146.5 1745.5,1146.6 1747.7,1146.4 1749.9,1146.3 1752.1,1146.3 1754.3,1146.3 1756.5,1146.4 1758.7,1146.4 1760.9,1146.4 1763.1,1146.2 1765.3,1146.3 1767.5,1146.1 1769.7,1146.0 1771.9,1145.7 1774.1,1145.7 1776.3,1145.7 1778.5,1146.0 1780.7,1146.0 1782.9,1146.1 1785.1,1146.0 1787.3,1145.9 1789.5,1145.8 1791.7,1145.9 1793.9,1146.0 1796.1,1146.0 1798.3,1145.9 1800.5,1145.8 1802.7,1145.7 1804.9,1145.6 1807.1,1145.4 1809.3,1145.4 1811.5,1145.2 1813.7,1145.4 1815.9,1145.3 1818.1,1145.4 1820.3,1145.4 1822.5,1145.7 1824.7,1145.8 1826.9,1145.9 1829.1,1145.7 1831.3,1145.7 1833.5,1145.5 1835.7,1145.3 1837.9,1144.9 1840.1,1144.5 1842.3,1144.6 1844.5,1144.7 1846.7,1145.1 1848.9,1145.3 1851.1,1145.5 1853.3,1145.5 1855.5,1145.5 1857.7,1145.5 1859.9,1145.5 1862.1,1145.4 1864.3,1145.2 1866.5,1145.1 1868.7,1145.1 1870.9,1145.0 1873.1,1144.9 1875.3,1145.1 1877.5,1145.4 1879.7,1145.3 1881.9,1145.0 1884.1,1144.8 1886.3,1145.1 1888.5,1145.3 1890.7,1145.4 1892.9,1145.2 1895.1,1145.2 1897.3,1145.0 1899.5,1144.9 1901.7,1144.7 1903.9,1144.7 1906.1,1144.7 1908.3,1144.8 1910.5,1144.7 1912.7,1144.8 1914.9,1144.8 1917.1,1144.8 1919.3,1144.6 1921.5,1144.5 1923.7,1144.5 1925.9,1144.8 1930.0,1144.8 1938.0,1145.0 1942.0,1142.0 1947.0,1134.0 1951.0,1117.0 1954.0,1088.0 1955.4,1030.0 1955.8,830.0 1958.0,765.0 1961.0,700.0 1961.4,540.0 1963.0,430.0 1965.0,330.0 1967.5,296.0 1970.0,284.0 1972.5,279.0 1975.0,284.0 1977.5,296.0 1980.5,330.0 1981.3,392.0 1984.7,402.0 1985.2,520.0 1987.2,532.0 1987.6,720.0 1989.0,765.0 1989.4,930.0 1992.2,945.0 1993.2,1047.0 1998.3,1090.0 2005.6,1119.0 2018.6,1134.0 2034.5,1141.0 2046.0,1144.8 2048.0,1144.8 2050.2,1145.0 2052.4,1144.8 2054.6,1144.5 2056.8,1144.4 2059.0,1144.6 2061.2,1144.8 2063.4,1144.9 2065.6,1144.7 2067.8,1144.5 2070.0,1144.4 2072.2,1144.6 2074.4,1144.8 2076.6,1144.1 2078.8,1145.1 2081.0,1145.4 2083.2,1145.8 2085.4,1145.7 2087.6,1145.5 2089.8,1145.0 2092.0,1144.7 2094.2,1144.7 2096.4,1144.6 2098.6,1144.7 2100.8,1144.6 2103.0,1144.7 2105.2,1144.8 2107.4,1144.9 2109.6,1145.3 2111.8,1145.3 2114.0,1145.2 2116.2,1145.2 2118.4,1145.3 2120.6,1145.6 2122.8,1145.2 2125.0,1144.7 2127.2,1144.2 2129.4,1144.3 2131.6,1144.7 2133.8,1145.2 2136.0,1145.3 2138.2,1145.3 2140.4,1145.2 2142.6,1145.1 2144.8,1145.1 2147.0,1145.2 2149.2,1145.2 2151.4,1145.0 2153.6,1144.8 2155.8,1144.9 2158.0,1145.1 2160.2,1145.3 2162.4,1145.1 2164.6,1144.8 2166.8,1144.6 2169.0,1144.7 2171.2,1144.8 2173.4,1144.9 2175.6,1144.7 2177.8,1144.5 2180.0,1144.6 2182.2,1145.0 2184.4,1145.5 2186.6,1145.6 2188.8,1145.6 2191.0,1145.4 2193.2,1145.4 2195.4,1145.3 2197.6,1145.1 2199.8,1144.9 2202.0,1145.1 2204.2,1145.2 2206.4,1145.4 2208.6,1145.4 2210.8,1145.5 2213.0,1145.4"/>
</g>
<g stroke="#161616" fill="none">
<rect x="247.3" y="44.7" width="1965.9" height="1121.1" stroke-width="5.9"/>
<path stroke-width="5.2" d="M411.1,1165.8v-12.5M411.1,44.7v12.5M575.0,1165.8v-25M575.0,44.7v25M738.8,1165.8v-12.5M738.8,44.7v12.5M902.6,1165.8v-25M902.6,44.7v25M1066.4,1165.8v-12.5M1066.4,44.7v12.5M1230.3,1165.8v-25M1230.3,44.7v25M1394.1,1165.8v-12.5M1394.1,44.7v12.5M1557.9,1165.8v-25M1557.9,44.7v25M1721.7,1165.8v-12.5M1721.7,44.7v12.5M1885.5,1165.8v-25M1885.5,44.7v25M2049.4,1165.8v-12.5M2049.4,44.7v12.5M247.3,1150.0h25M2213.2,1150.0h-25M247.3,1070.8h12.5M2213.2,1070.8h-12.5M247.3,992.0h25M2213.2,992.0h-25M247.3,912.4h12.5M2213.2,912.4h-12.5M247.3,833.7h25M2213.2,833.7h-25M247.3,754.0h12.5M2213.2,754.0h-12.5M247.3,675.7h25M2213.2,675.7h-25M247.3,597.4h12.5M2213.2,597.4h-12.5M247.3,517.3h25M2213.2,517.3h-25M247.3,439.0h12.5M2213.2,439.0h-12.5M247.3,359.4h25M2213.2,359.4h-25M247.3,281.0h12.5M2213.2,281.0h-12.5M247.3,202.8h25M2213.2,202.8h-25M247.3,122.9h12.5M2213.2,122.9h-12.5"/>
</g>
<text class="b" text-anchor="end" transform="translate(222.6,1168.9) scale(0.99,1.05)">0</text>
<text class="b" text-anchor="end" transform="translate(222.6,1011.3) scale(0.99,1.05)">1000</text>
<text class="b" text-anchor="end" transform="translate(222.6,853.7) scale(0.99,1.05)">2000</text>
<text class="b" text-anchor="end" transform="translate(222.6,696.1) scale(0.99,1.05)">3000</text>
<text class="b" text-anchor="end" transform="translate(222.6,538.5) scale(0.99,1.05)">4000</text>
<text class="b" text-anchor="end" transform="translate(222.6,380.9) scale(0.99,1.05)">5000</text>
<text class="b" text-anchor="end" transform="translate(222.6,223.3) scale(0.99,1.05)">6000</text>
<text class="b" text-anchor="end" transform="translate(222.6,65.7) scale(0.99,1.05)">7000</text>
<text class="b" text-anchor="middle" transform="translate(248.1,1245.0) scale(0.99,1.04)">1.9</text>
<text class="b" text-anchor="middle" transform="translate(575.8,1245.0) scale(0.99,1.04)">2.0</text>
<text class="b" text-anchor="middle" transform="translate(903.4,1245.0) scale(0.99,1.04)">2.1</text>
<text class="b" text-anchor="middle" transform="translate(1231.1,1245.0) scale(0.99,1.04)">2.2</text>
<text class="b" text-anchor="middle" transform="translate(1558.7,1245.0) scale(0.99,1.04)">2.3</text>
<text class="b" text-anchor="middle" transform="translate(1886.3,1245.0) scale(0.99,1.04)">2.4</text>
<text class="b" text-anchor="middle" transform="translate(2214.0,1245.0) scale(0.99,1.04)">2.5</text>
<text class="b" text-anchor="start" transform="translate(1079.6,1318.6) scale(0.986,1.04)">Length</text>
<text class="b" text-anchor="end" transform="translate(1377.8,1318.6) scale(0.918,1.06)">[m]</text>
<g transform="translate(69.6,753.5) rotate(-90)">
<text class="b" transform="translate(0.0,0) scale(0.99,1.04)">Strain</text>
<text class="b" transform="translate(191.0,0) scale(0.85,1.04)">[</text>
<text class="b gk" transform="translate(214.5,0) scale(0.9,1.04)">µ</text>
<text class="b gk" transform="translate(248.5,0) scale(1.1,1.04)">ε</text>
<text class="b" transform="translate(279.5,0) scale(0.85,1.04)">]</text>
</g>
<text class="an" text-anchor="start" transform="translate(463.5,274.2) scale(0.99,1.035)">0.9mm TSSOF</text>
<text class="an" text-anchor="start" transform="translate(1776.2,270.3) scale(0.985,1.035)">PISOF</text>
<rect x="386.3" y="1337.5" width="1518" height="89" fill="#ffffff" stroke="#4e4e4e" stroke-width="3.6"/>
<line x1="399.2" y1="1381.5" x2="536.4" y2="1381.5" stroke="#4a4a4a" stroke-width="8.2" stroke-linecap="round"/>
<text class="lg" text-anchor="start" transform="translate(552.1,1402.3) scale(0.9655,1.03)">10µm</text>
<line x1="698.6" y1="1381.5" x2="835.8" y2="1381.5" stroke="#f53c3c" stroke-width="8.2" stroke-linecap="round"/>
<text class="lg" text-anchor="start" transform="translate(850.1,1402.3) scale(0.9655,1.03)">20µm</text>
<line x1="998.0" y1="1381.5" x2="1135.2" y2="1381.5" stroke="#1a6fdf" stroke-width="8.2" stroke-linecap="round"/>
<text class="lg" text-anchor="start" transform="translate(1149.5,1402.3) scale(0.9655,1.03)">30µm</text>
<line x1="1297.4" y1="1381.5" x2="1434.6" y2="1381.5" stroke="#37ad6b" stroke-width="8.2" stroke-linecap="round"/>
<text class="lg" text-anchor="start" transform="translate(1448.9,1402.3) scale(0.9655,1.03)">40µm</text>
<line x1="1596.8" y1="1381.5" x2="1734.0" y2="1381.5" stroke="#b177de" stroke-width="8.2" stroke-linecap="round"/>
<text class="lg" text-anchor="start" transform="translate(1748.3,1402.3) scale(0.9655,1.03)">50µm</text>
</svg>
</body></html>
